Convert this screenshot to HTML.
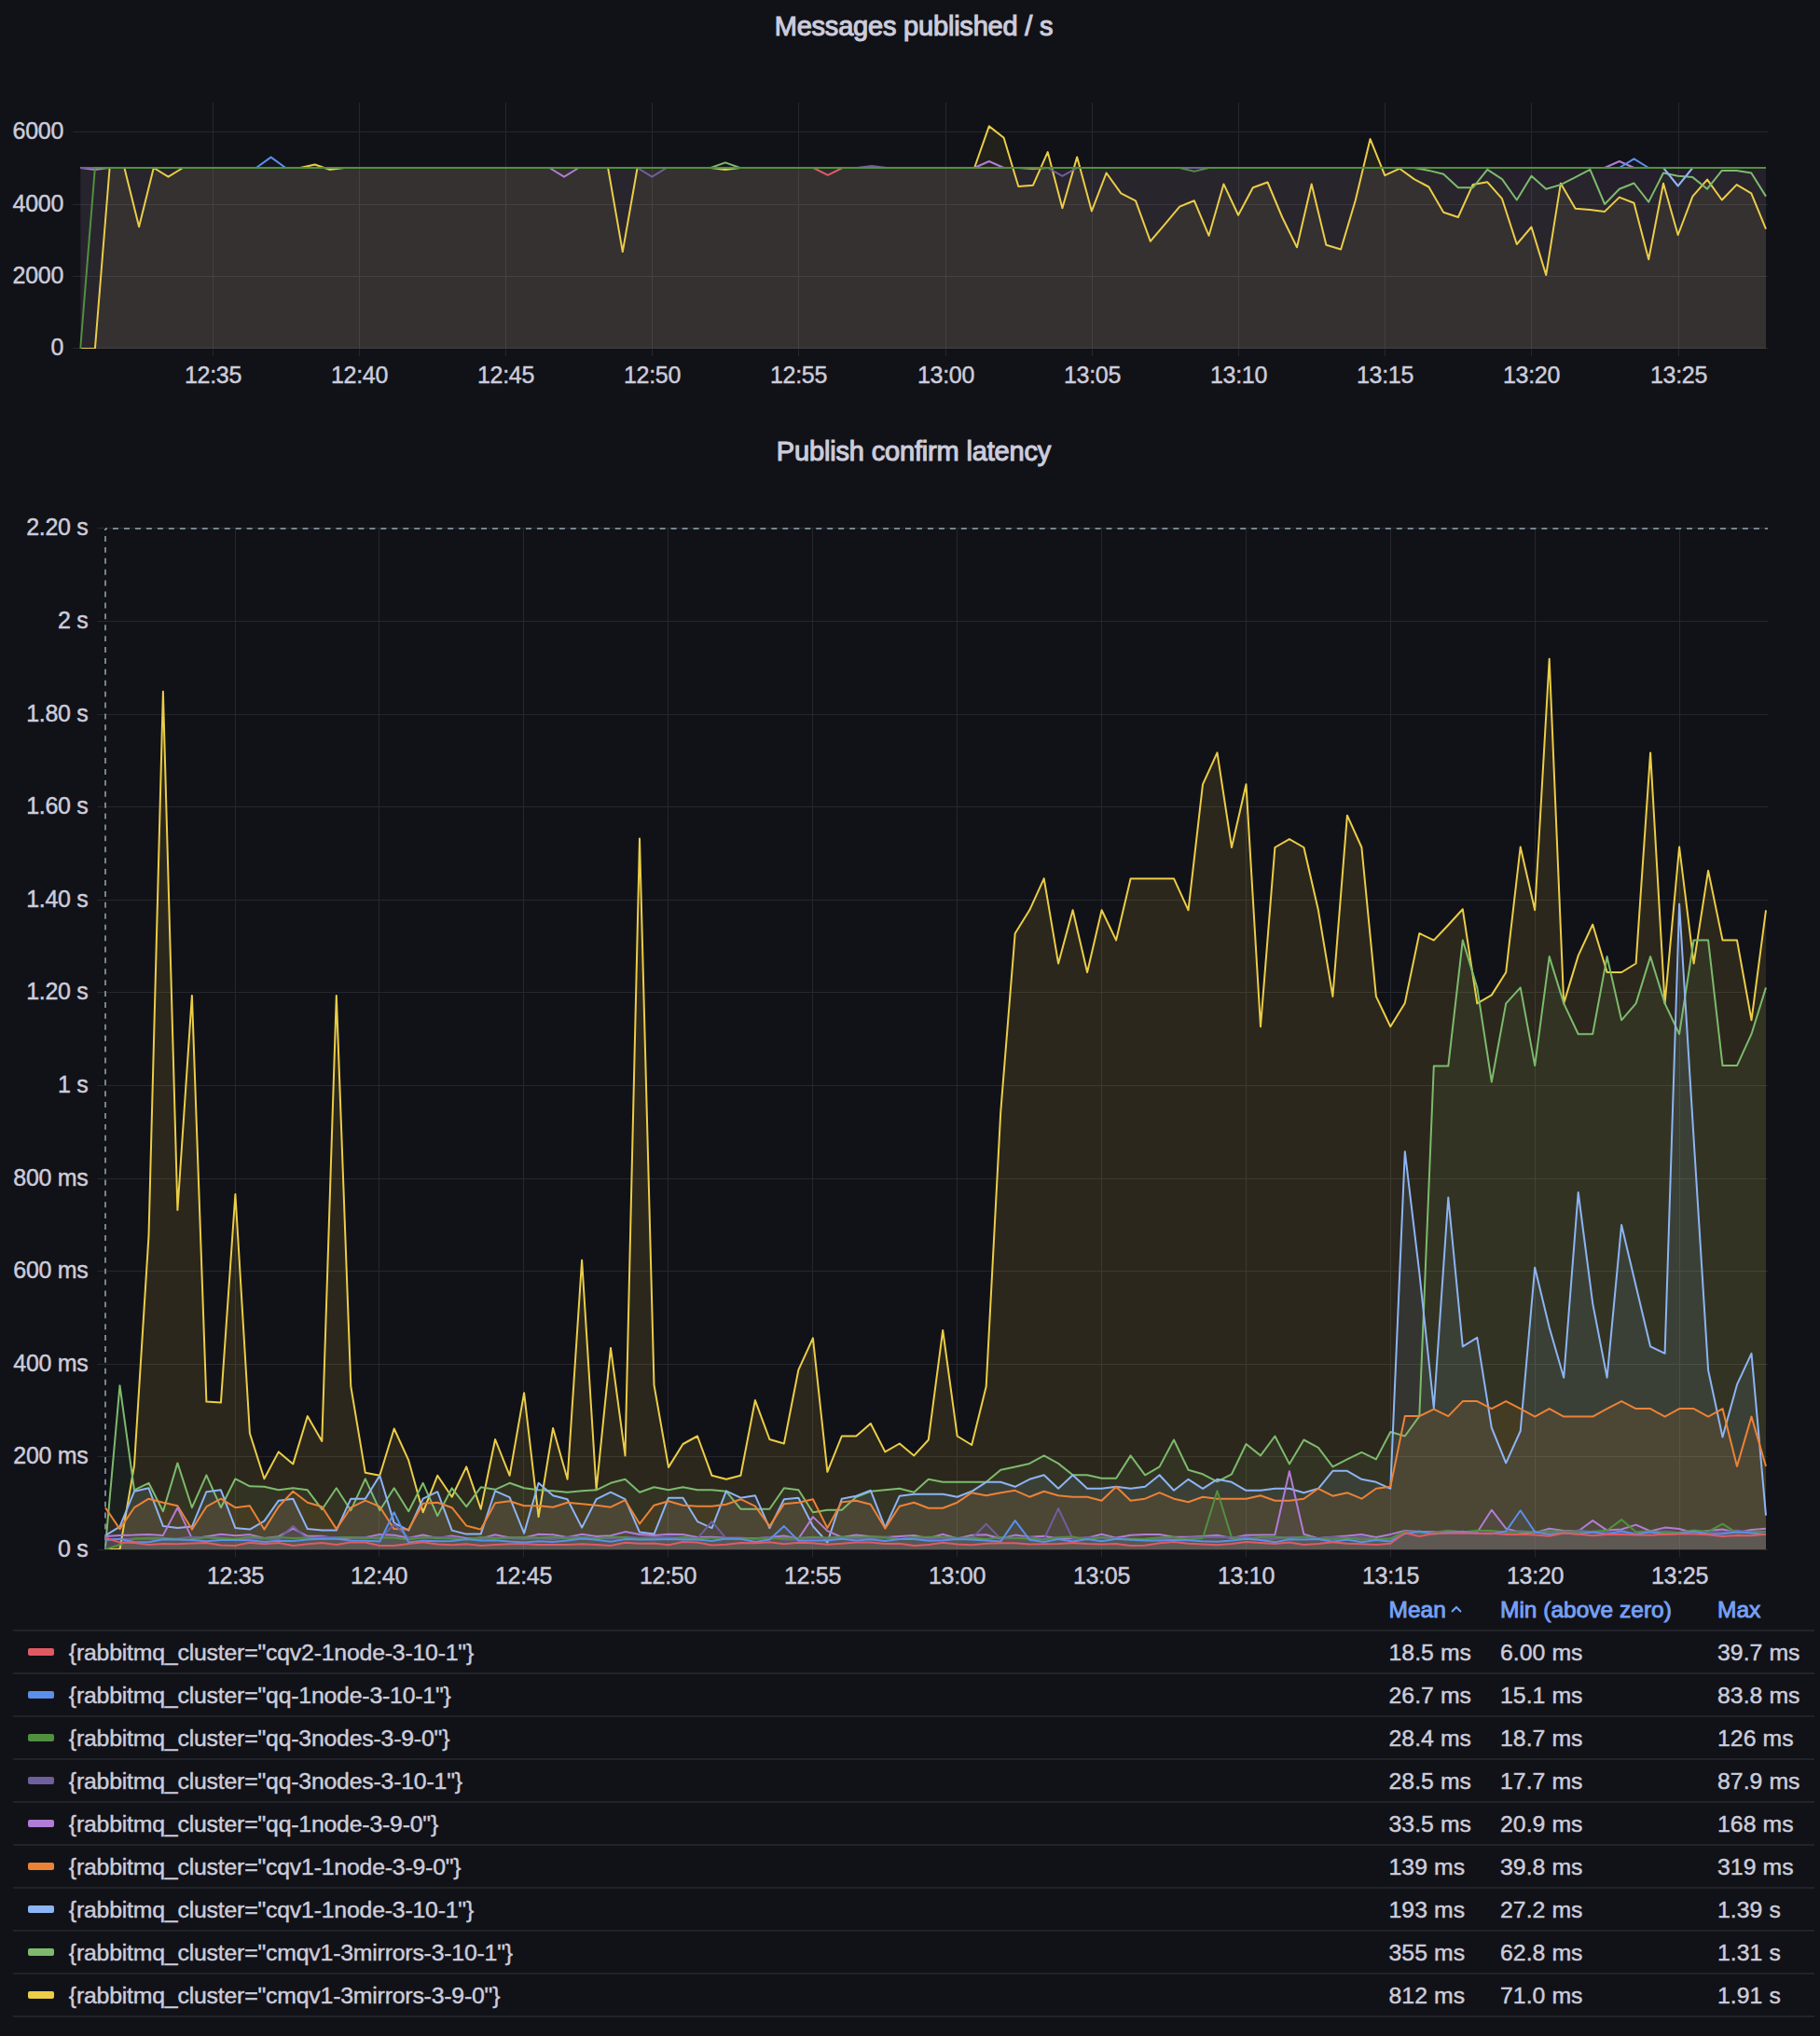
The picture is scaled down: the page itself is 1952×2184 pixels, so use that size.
<!DOCTYPE html>
<html><head><meta charset="utf-8"><title>Grafana</title>
<style>
html,body{margin:0;padding:0;background:#111217;width:1952px;height:2184px;overflow:hidden;position:relative}
svg text{font-family:"Liberation Sans",sans-serif;fill:#ccccdc}
.ax,.lg,.val{stroke:#ccccdc;stroke-width:0.45px}
.ttl{font-size:29px;font-weight:normal;stroke:#ccccdc;stroke-width:1.1px}
.ax{font-size:25px;letter-spacing:-0.3px}
.lg{font-size:24.8px;letter-spacing:-0.19px}
.val{font-size:24.8px;letter-spacing:0.05px}
.hd{font-size:24.5px;font-weight:normal;letter-spacing:0px;fill:#76a0f8 !important;stroke:#76a0f8;stroke-width:0.9px}
</style></head><body>
<svg width="1952" height="2184" viewBox="0 0 1952 2184" style="position:absolute;left:0;top:0">
<text x="980" y="38" text-anchor="middle" class="ttl" letter-spacing="-0.2">Messages published / s</text>
<text x="980" y="494" text-anchor="middle" class="ttl" letter-spacing="-0.17">Publish confirm latency</text>
<line x1="78" y1="373.5" x2="1896" y2="373.5" stroke="#26272c" stroke-width="1"/>
<text x="68" y="381.0" text-anchor="end" class="ax">0</text>
<line x1="78" y1="296.5" x2="1896" y2="296.5" stroke="#26272c" stroke-width="1"/>
<text x="68" y="304.0" text-anchor="end" class="ax">2000</text>
<line x1="78" y1="219.5" x2="1896" y2="219.5" stroke="#26272c" stroke-width="1"/>
<text x="68" y="227.0" text-anchor="end" class="ax">4000</text>
<line x1="78" y1="141.5" x2="1896" y2="141.5" stroke="#26272c" stroke-width="1"/>
<text x="68" y="149.0" text-anchor="end" class="ax">6000</text>
<line x1="228.5" y1="110" x2="228.5" y2="382" stroke="#26272c" stroke-width="1"/>
<text x="228.5" y="410.5" text-anchor="middle" class="ax">12:35</text>
<line x1="385.5" y1="110" x2="385.5" y2="382" stroke="#26272c" stroke-width="1"/>
<text x="385.5" y="410.5" text-anchor="middle" class="ax">12:40</text>
<line x1="542.5" y1="110" x2="542.5" y2="382" stroke="#26272c" stroke-width="1"/>
<text x="542.5" y="410.5" text-anchor="middle" class="ax">12:45</text>
<line x1="699.5" y1="110" x2="699.5" y2="382" stroke="#26272c" stroke-width="1"/>
<text x="699.5" y="410.5" text-anchor="middle" class="ax">12:50</text>
<line x1="856.5" y1="110" x2="856.5" y2="382" stroke="#26272c" stroke-width="1"/>
<text x="856.5" y="410.5" text-anchor="middle" class="ax">12:55</text>
<line x1="1014.5" y1="110" x2="1014.5" y2="382" stroke="#26272c" stroke-width="1"/>
<text x="1014.5" y="410.5" text-anchor="middle" class="ax">13:00</text>
<line x1="1171.5" y1="110" x2="1171.5" y2="382" stroke="#26272c" stroke-width="1"/>
<text x="1171.5" y="410.5" text-anchor="middle" class="ax">13:05</text>
<line x1="1328.5" y1="110" x2="1328.5" y2="382" stroke="#26272c" stroke-width="1"/>
<text x="1328.5" y="410.5" text-anchor="middle" class="ax">13:10</text>
<line x1="1485.5" y1="110" x2="1485.5" y2="382" stroke="#26272c" stroke-width="1"/>
<text x="1485.5" y="410.5" text-anchor="middle" class="ax">13:15</text>
<line x1="1642.5" y1="110" x2="1642.5" y2="382" stroke="#26272c" stroke-width="1"/>
<text x="1642.5" y="410.5" text-anchor="middle" class="ax">13:20</text>
<line x1="1800.5" y1="110" x2="1800.5" y2="382" stroke="#26272c" stroke-width="1"/>
<text x="1800.5" y="410.5" text-anchor="middle" class="ax">13:25</text>
<clipPath id="ct"><rect x="85.2" y="100" width="1809.8" height="274.0"/></clipPath>
<g clip-path="url(#ct)"><path d="M86.2,374.0 L86.2,374.0 L101.9,374.0 L117.6,180.0 L133.4,180.0 L149.1,243.2 L164.8,180.0 L180.5,189.7 L196.2,180.0 L212.0,180.0 L227.7,180.0 L243.4,180.0 L259.1,180.0 L274.8,180.0 L290.6,180.0 L306.3,180.0 L322.0,180.0 L337.7,176.5 L353.4,181.9 L369.2,180.0 L384.9,180.0 L400.6,180.0 L416.3,180.0 L432.0,180.0 L447.8,180.0 L463.5,180.0 L479.2,180.0 L494.9,180.0 L510.6,180.0 L526.4,180.0 L542.1,180.0 L557.8,180.0 L573.5,180.0 L589.2,180.0 L605.0,180.0 L620.7,180.0 L636.4,180.0 L652.1,180.0 L667.8,270.1 L683.6,180.0 L699.3,180.0 L715.0,180.0 L730.7,180.0 L746.4,180.0 L762.2,180.0 L777.9,181.9 L793.6,180.0 L809.3,180.0 L825.0,180.0 L840.8,180.0 L856.5,180.0 L872.2,180.0 L887.9,180.0 L903.6,180.0 L919.4,180.0 L935.1,180.0 L950.8,180.0 L966.5,180.0 L982.2,180.0 L998.0,180.0 L1013.7,180.0 L1029.4,180.0 L1045.1,180.0 L1060.8,135.4 L1076.6,147.8 L1092.3,200.0 L1108.0,198.7 L1123.7,163.1 L1139.4,223.2 L1155.2,168.4 L1170.9,226.4 L1186.6,185.5 L1202.3,207.4 L1218.0,215.3 L1233.8,258.8 L1249.5,240.4 L1265.2,221.6 L1280.9,215.3 L1296.6,252.8 L1312.4,197.4 L1328.1,230.8 L1343.8,201.3 L1359.5,195.5 L1375.2,233.0 L1391.0,265.2 L1406.7,197.4 L1422.4,262.8 L1438.1,267.5 L1453.8,214.8 L1469.6,149.1 L1485.3,188.2 L1501.0,180.8 L1516.7,192.1 L1532.4,200.5 L1548.2,227.7 L1563.9,233.0 L1579.6,198.1 L1595.3,195.3 L1611.0,213.2 L1626.8,262.0 L1642.5,243.5 L1658.2,295.0 L1673.9,196.7 L1689.6,223.8 L1705.4,225.1 L1721.1,226.9 L1736.8,211.6 L1752.5,217.7 L1768.2,278.3 L1784.0,196.7 L1799.7,252.0 L1815.4,210.6 L1831.1,192.6 L1846.8,214.5 L1862.6,198.1 L1878.3,207.4 L1894.0,245.6 L1894.0,374.0 Z" fill="#ebcd47" fill-opacity="0.0813" stroke="none"/>
<path d="M86.2,374.0 L86.2,180.0 L101.9,180.0 L117.6,180.0 L133.4,180.0 L149.1,180.0 L164.8,180.0 L180.5,180.0 L196.2,180.0 L212.0,180.0 L227.7,180.0 L243.4,180.0 L259.1,180.0 L274.8,180.0 L290.6,180.0 L306.3,180.0 L322.0,180.0 L337.7,180.0 L353.4,180.0 L369.2,180.0 L384.9,180.0 L400.6,180.0 L416.3,180.0 L432.0,180.0 L447.8,180.0 L463.5,180.0 L479.2,180.0 L494.9,180.0 L510.6,180.0 L526.4,180.0 L542.1,180.0 L557.8,180.0 L573.5,180.0 L589.2,180.0 L605.0,180.0 L620.7,180.0 L636.4,180.0 L652.1,180.0 L667.8,180.0 L683.6,180.0 L699.3,180.0 L715.0,180.0 L730.7,180.0 L746.4,180.0 L762.2,180.0 L777.9,174.4 L793.6,180.0 L809.3,180.0 L825.0,180.0 L840.8,180.0 L856.5,180.0 L872.2,180.0 L887.9,180.0 L903.6,180.0 L919.4,180.0 L935.1,180.0 L950.8,180.0 L966.5,180.0 L982.2,180.0 L998.0,180.0 L1013.7,180.0 L1029.4,180.0 L1045.1,180.0 L1060.8,180.0 L1076.6,180.0 L1092.3,180.0 L1108.0,180.0 L1123.7,180.0 L1139.4,180.0 L1155.2,180.0 L1170.9,180.0 L1186.6,180.0 L1202.3,180.0 L1218.0,180.0 L1233.8,180.0 L1249.5,180.0 L1265.2,180.0 L1280.9,180.0 L1296.6,180.0 L1312.4,180.0 L1328.1,180.0 L1343.8,180.0 L1359.5,180.0 L1375.2,180.0 L1391.0,180.0 L1406.7,180.0 L1422.4,180.0 L1438.1,180.0 L1453.8,180.0 L1469.6,180.0 L1485.3,180.0 L1501.0,180.0 L1516.7,180.0 L1532.4,182.9 L1548.2,186.8 L1563.9,201.3 L1579.6,201.3 L1595.3,181.9 L1611.0,192.1 L1626.8,214.5 L1642.5,188.7 L1658.2,202.7 L1673.9,198.1 L1689.6,190.1 L1705.4,181.9 L1721.1,219.0 L1736.8,202.7 L1752.5,196.5 L1768.2,216.6 L1784.0,185.5 L1799.7,188.7 L1815.4,190.1 L1831.1,202.7 L1846.8,182.9 L1862.6,182.9 L1878.3,185.5 L1894.0,210.6 L1894.0,374.0 Z" fill="#7dba6d" fill-opacity="0.0296" stroke="none"/>
<path d="M86.2,374.0 L86.2,180.0 L101.9,180.0 L117.6,180.0 L133.4,180.0 L149.1,180.0 L164.8,180.0 L180.5,180.0 L196.2,180.0 L212.0,180.0 L227.7,180.0 L243.4,180.0 L259.1,180.0 L274.8,180.0 L290.6,180.0 L306.3,180.0 L322.0,180.0 L337.7,180.0 L353.4,180.0 L369.2,180.0 L384.9,180.0 L400.6,180.0 L416.3,180.0 L432.0,180.0 L447.8,180.0 L463.5,180.0 L479.2,180.0 L494.9,180.0 L510.6,180.0 L526.4,180.0 L542.1,180.0 L557.8,180.0 L573.5,180.0 L589.2,180.0 L605.0,180.0 L620.7,180.0 L636.4,180.0 L652.1,180.0 L667.8,180.0 L683.6,180.0 L699.3,180.0 L715.0,180.0 L730.7,180.0 L746.4,180.0 L762.2,180.0 L777.9,180.0 L793.6,180.0 L809.3,180.0 L825.0,180.0 L840.8,180.0 L856.5,180.0 L872.2,180.0 L887.9,180.0 L903.6,180.0 L919.4,180.0 L935.1,180.0 L950.8,180.0 L966.5,180.0 L982.2,180.0 L998.0,180.0 L1013.7,180.0 L1029.4,180.0 L1045.1,180.0 L1060.8,180.0 L1076.6,180.0 L1092.3,180.0 L1108.0,180.0 L1123.7,180.0 L1139.4,180.0 L1155.2,180.0 L1170.9,180.0 L1186.6,180.0 L1202.3,180.0 L1218.0,180.0 L1233.8,180.0 L1249.5,180.0 L1265.2,180.0 L1280.9,180.0 L1296.6,180.0 L1312.4,180.0 L1328.1,180.0 L1343.8,180.0 L1359.5,180.0 L1375.2,180.0 L1391.0,180.0 L1406.7,180.0 L1422.4,180.0 L1438.1,180.0 L1453.8,180.0 L1469.6,180.0 L1485.3,180.0 L1501.0,180.0 L1516.7,180.0 L1532.4,180.0 L1548.2,180.0 L1563.9,180.0 L1579.6,180.0 L1595.3,180.0 L1611.0,180.0 L1626.8,180.0 L1642.5,180.0 L1658.2,180.0 L1673.9,180.0 L1689.6,180.0 L1705.4,180.0 L1721.1,180.0 L1736.8,180.0 L1752.5,180.0 L1768.2,180.0 L1784.0,180.0 L1799.7,199.5 L1815.4,180.0 L1831.1,180.0 L1846.8,180.0 L1862.6,180.0 L1878.3,180.0 L1894.0,180.0 L1894.0,374.0 Z" fill="#8db4f5" fill-opacity="0.0203" stroke="none"/>
<path d="M86.2,374.0 L86.2,180.0 L101.9,180.0 L117.6,180.0 L133.4,180.0 L149.1,180.0 L164.8,180.0 L180.5,180.0 L196.2,180.0 L212.0,180.0 L227.7,180.0 L243.4,180.0 L259.1,180.0 L274.8,180.0 L290.6,180.0 L306.3,180.0 L322.0,180.0 L337.7,180.0 L353.4,180.0 L369.2,180.0 L384.9,180.0 L400.6,180.0 L416.3,180.0 L432.0,180.0 L447.8,180.0 L463.5,180.0 L479.2,180.0 L494.9,180.0 L510.6,180.0 L526.4,180.0 L542.1,180.0 L557.8,180.0 L573.5,180.0 L589.2,180.0 L605.0,180.0 L620.7,180.0 L636.4,180.0 L652.1,180.0 L667.8,180.0 L683.6,180.0 L699.3,180.0 L715.0,180.0 L730.7,180.0 L746.4,180.0 L762.2,180.0 L777.9,180.0 L793.6,180.0 L809.3,180.0 L825.0,180.0 L840.8,180.0 L856.5,180.0 L872.2,180.0 L887.9,180.0 L903.6,180.0 L919.4,180.0 L935.1,180.0 L950.8,180.0 L966.5,180.0 L982.2,180.0 L998.0,180.0 L1013.7,180.0 L1029.4,180.0 L1045.1,180.0 L1060.8,180.0 L1076.6,180.0 L1092.3,180.0 L1108.0,181.2 L1123.7,180.0 L1139.4,180.0 L1155.2,180.0 L1170.9,180.0 L1186.6,180.0 L1202.3,180.0 L1218.0,180.0 L1233.8,180.0 L1249.5,180.0 L1265.2,180.0 L1280.9,180.0 L1296.6,180.0 L1312.4,180.0 L1328.1,180.0 L1343.8,180.0 L1359.5,180.0 L1375.2,180.0 L1391.0,180.0 L1406.7,180.0 L1422.4,180.0 L1438.1,180.0 L1453.8,180.0 L1469.6,180.0 L1485.3,180.0 L1501.0,180.0 L1516.7,180.0 L1532.4,180.0 L1548.2,180.0 L1563.9,180.0 L1579.6,180.0 L1595.3,180.0 L1611.0,180.0 L1626.8,180.0 L1642.5,180.0 L1658.2,180.0 L1673.9,180.0 L1689.6,180.0 L1705.4,180.0 L1721.1,180.0 L1736.8,180.0 L1752.5,180.0 L1768.2,180.0 L1784.0,180.0 L1799.7,180.0 L1815.4,180.0 L1831.1,180.0 L1846.8,180.0 L1862.6,180.0 L1878.3,180.0 L1894.0,180.0 L1894.0,374.0 Z" fill="#ec8236" fill-opacity="0.0" stroke="none"/>
<path d="M86.2,374.0 L86.2,180.0 L101.9,181.9 L117.6,180.0 L133.4,180.0 L149.1,180.0 L164.8,180.0 L180.5,180.0 L196.2,180.0 L212.0,180.0 L227.7,180.0 L243.4,180.0 L259.1,180.0 L274.8,180.0 L290.6,180.0 L306.3,180.0 L322.0,180.0 L337.7,180.0 L353.4,180.0 L369.2,180.0 L384.9,180.0 L400.6,180.0 L416.3,180.0 L432.0,180.0 L447.8,180.0 L463.5,180.0 L479.2,180.0 L494.9,180.0 L510.6,180.0 L526.4,180.0 L542.1,180.0 L557.8,180.0 L573.5,180.0 L589.2,180.0 L605.0,189.7 L620.7,180.0 L636.4,180.0 L652.1,180.0 L667.8,180.0 L683.6,180.0 L699.3,180.0 L715.0,180.0 L730.7,180.0 L746.4,180.0 L762.2,180.0 L777.9,180.0 L793.6,180.0 L809.3,180.0 L825.0,180.0 L840.8,180.0 L856.5,180.0 L872.2,180.0 L887.9,180.0 L903.6,180.0 L919.4,180.0 L935.1,180.0 L950.8,180.0 L966.5,180.0 L982.2,180.0 L998.0,180.0 L1013.7,180.0 L1029.4,180.0 L1045.1,180.0 L1060.8,173.0 L1076.6,180.0 L1092.3,180.0 L1108.0,180.0 L1123.7,180.0 L1139.4,180.0 L1155.2,180.0 L1170.9,180.0 L1186.6,180.0 L1202.3,180.0 L1218.0,180.0 L1233.8,180.0 L1249.5,180.0 L1265.2,180.0 L1280.9,180.0 L1296.6,180.0 L1312.4,180.0 L1328.1,180.0 L1343.8,180.0 L1359.5,180.0 L1375.2,180.0 L1391.0,180.0 L1406.7,180.0 L1422.4,180.0 L1438.1,180.0 L1453.8,180.0 L1469.6,180.0 L1485.3,180.0 L1501.0,180.0 L1516.7,180.0 L1532.4,180.0 L1548.2,180.0 L1563.9,180.0 L1579.6,180.0 L1595.3,180.0 L1611.0,180.0 L1626.8,180.0 L1642.5,180.0 L1658.2,180.0 L1673.9,180.0 L1689.6,180.0 L1705.4,180.0 L1721.1,180.0 L1736.8,173.0 L1752.5,180.0 L1768.2,180.0 L1784.0,180.0 L1799.7,180.0 L1815.4,180.0 L1831.1,180.0 L1846.8,180.0 L1862.6,180.0 L1878.3,180.0 L1894.0,180.0 L1894.0,374.0 Z" fill="#b07dd5" fill-opacity="0.0135" stroke="none"/>
<path d="M86.2,374.0 L86.2,180.0 L101.9,180.0 L117.6,180.0 L133.4,180.0 L149.1,180.0 L164.8,180.0 L180.5,180.0 L196.2,180.0 L212.0,180.0 L227.7,180.0 L243.4,180.0 L259.1,180.0 L274.8,180.0 L290.6,168.6 L306.3,180.0 L322.0,180.0 L337.7,180.0 L353.4,180.0 L369.2,180.0 L384.9,180.0 L400.6,180.0 L416.3,180.0 L432.0,180.0 L447.8,180.0 L463.5,180.0 L479.2,180.0 L494.9,180.0 L510.6,180.0 L526.4,180.0 L542.1,180.0 L557.8,180.0 L573.5,180.0 L589.2,180.0 L605.0,180.0 L620.7,180.0 L636.4,180.0 L652.1,180.0 L667.8,180.0 L683.6,180.0 L699.3,180.0 L715.0,180.0 L730.7,180.0 L746.4,180.0 L762.2,180.0 L777.9,180.0 L793.6,180.0 L809.3,180.0 L825.0,180.0 L840.8,180.0 L856.5,180.0 L872.2,180.0 L887.9,180.0 L903.6,180.0 L919.4,180.0 L935.1,180.0 L950.8,180.0 L966.5,180.0 L982.2,180.0 L998.0,180.0 L1013.7,180.0 L1029.4,180.0 L1045.1,180.0 L1060.8,180.0 L1076.6,180.0 L1092.3,180.0 L1108.0,180.0 L1123.7,180.0 L1139.4,180.0 L1155.2,180.0 L1170.9,180.0 L1186.6,180.0 L1202.3,180.0 L1218.0,180.0 L1233.8,180.0 L1249.5,180.0 L1265.2,180.0 L1280.9,180.0 L1296.6,180.0 L1312.4,180.0 L1328.1,180.0 L1343.8,180.0 L1359.5,180.0 L1375.2,180.0 L1391.0,180.0 L1406.7,180.0 L1422.4,180.0 L1438.1,180.0 L1453.8,180.0 L1469.6,180.0 L1485.3,180.0 L1501.0,180.0 L1516.7,180.0 L1532.4,180.0 L1548.2,180.0 L1563.9,180.0 L1579.6,180.0 L1595.3,180.0 L1611.0,180.0 L1626.8,180.0 L1642.5,180.0 L1658.2,180.0 L1673.9,180.0 L1689.6,180.0 L1705.4,180.0 L1721.1,180.0 L1736.8,180.0 L1752.5,170.3 L1768.2,180.0 L1784.0,180.0 L1799.7,180.0 L1815.4,180.0 L1831.1,180.0 L1846.8,180.0 L1862.6,180.0 L1878.3,180.0 L1894.0,180.0 L1894.0,374.0 Z" fill="#5b8fea" fill-opacity="0.0368" stroke="none"/>
<path d="M86.2,374.0 L86.2,180.0 L101.9,180.0 L117.6,180.0 L133.4,180.0 L149.1,180.0 L164.8,180.0 L180.5,180.0 L196.2,180.0 L212.0,180.0 L227.7,180.0 L243.4,180.0 L259.1,180.0 L274.8,180.0 L290.6,180.0 L306.3,180.0 L322.0,180.0 L337.7,180.0 L353.4,180.0 L369.2,180.0 L384.9,180.0 L400.6,180.0 L416.3,180.0 L432.0,180.0 L447.8,180.0 L463.5,180.0 L479.2,180.0 L494.9,180.0 L510.6,180.0 L526.4,180.0 L542.1,180.0 L557.8,180.0 L573.5,180.0 L589.2,180.0 L605.0,180.0 L620.7,180.0 L636.4,180.0 L652.1,180.0 L667.8,180.0 L683.6,180.0 L699.3,180.0 L715.0,180.0 L730.7,180.0 L746.4,180.0 L762.2,180.0 L777.9,180.0 L793.6,180.0 L809.3,180.0 L825.0,180.0 L840.8,180.0 L856.5,180.0 L872.2,180.0 L887.9,187.8 L903.6,180.0 L919.4,180.0 L935.1,180.0 L950.8,180.0 L966.5,180.0 L982.2,180.0 L998.0,180.0 L1013.7,180.0 L1029.4,180.0 L1045.1,180.0 L1060.8,180.0 L1076.6,180.0 L1092.3,180.0 L1108.0,180.0 L1123.7,180.0 L1139.4,180.0 L1155.2,180.0 L1170.9,180.0 L1186.6,180.0 L1202.3,180.0 L1218.0,180.0 L1233.8,180.0 L1249.5,180.0 L1265.2,180.0 L1280.9,180.0 L1296.6,180.0 L1312.4,180.0 L1328.1,180.0 L1343.8,180.0 L1359.5,180.0 L1375.2,180.0 L1391.0,180.0 L1406.7,180.0 L1422.4,180.0 L1438.1,180.0 L1453.8,180.0 L1469.6,180.0 L1485.3,180.0 L1501.0,180.0 L1516.7,180.0 L1532.4,180.0 L1548.2,180.0 L1563.9,180.0 L1579.6,180.0 L1595.3,180.0 L1611.0,180.0 L1626.8,180.0 L1642.5,180.0 L1658.2,180.0 L1673.9,180.0 L1689.6,180.0 L1705.4,180.0 L1721.1,180.0 L1736.8,180.0 L1752.5,180.0 L1768.2,180.0 L1784.0,180.0 L1799.7,180.0 L1815.4,180.0 L1831.1,180.0 L1846.8,180.0 L1862.6,180.0 L1878.3,180.0 L1894.0,180.0 L1894.0,374.0 Z" fill="#e05a64" fill-opacity="0.0658" stroke="none"/>
<path d="M86.2,374.0 L86.2,180.0 L101.9,180.0 L117.6,180.0 L133.4,180.0 L149.1,180.0 L164.8,180.0 L180.5,180.0 L196.2,180.0 L212.0,180.0 L227.7,180.0 L243.4,180.0 L259.1,180.0 L274.8,180.0 L290.6,180.0 L306.3,180.0 L322.0,180.0 L337.7,180.0 L353.4,180.0 L369.2,180.0 L384.9,180.0 L400.6,180.0 L416.3,180.0 L432.0,180.0 L447.8,180.0 L463.5,180.0 L479.2,180.0 L494.9,180.0 L510.6,180.0 L526.4,180.0 L542.1,180.0 L557.8,180.0 L573.5,180.0 L589.2,180.0 L605.0,180.0 L620.7,180.0 L636.4,180.0 L652.1,180.0 L667.8,180.0 L683.6,180.0 L699.3,189.7 L715.0,180.0 L730.7,180.0 L746.4,180.0 L762.2,180.0 L777.9,180.0 L793.6,180.0 L809.3,180.0 L825.0,180.0 L840.8,180.0 L856.5,180.0 L872.2,180.0 L887.9,180.0 L903.6,180.0 L919.4,180.0 L935.1,178.1 L950.8,180.0 L966.5,180.0 L982.2,180.0 L998.0,180.0 L1013.7,180.0 L1029.4,180.0 L1045.1,180.0 L1060.8,180.0 L1076.6,180.0 L1092.3,180.0 L1108.0,180.0 L1123.7,180.0 L1139.4,188.8 L1155.2,180.0 L1170.9,180.0 L1186.6,180.0 L1202.3,180.0 L1218.0,180.0 L1233.8,180.0 L1249.5,180.0 L1265.2,180.0 L1280.9,180.0 L1296.6,180.0 L1312.4,180.0 L1328.1,180.0 L1343.8,180.0 L1359.5,180.0 L1375.2,180.0 L1391.0,180.0 L1406.7,180.0 L1422.4,180.0 L1438.1,180.0 L1453.8,180.0 L1469.6,180.0 L1485.3,180.0 L1501.0,180.0 L1516.7,180.0 L1532.4,180.0 L1548.2,180.0 L1563.9,180.0 L1579.6,180.0 L1595.3,180.0 L1611.0,180.0 L1626.8,180.0 L1642.5,180.0 L1658.2,180.0 L1673.9,180.0 L1689.6,180.0 L1705.4,180.0 L1721.1,180.0 L1736.8,180.0 L1752.5,180.0 L1768.2,180.0 L1784.0,180.0 L1799.7,180.0 L1815.4,180.0 L1831.1,180.0 L1846.8,180.0 L1862.6,180.0 L1878.3,180.0 L1894.0,180.0 L1894.0,374.0 Z" fill="#6f5f9e" fill-opacity="0.0404" stroke="none"/>
<path d="M86.2,374.0 L86.2,374.0 L101.9,180.0 L117.6,180.0 L133.4,180.0 L149.1,180.0 L164.8,180.0 L180.5,180.0 L196.2,180.0 L212.0,180.0 L227.7,180.0 L243.4,180.0 L259.1,180.0 L274.8,180.0 L290.6,180.0 L306.3,180.0 L322.0,180.0 L337.7,180.0 L353.4,180.0 L369.2,180.0 L384.9,180.0 L400.6,180.0 L416.3,180.0 L432.0,180.0 L447.8,180.0 L463.5,180.0 L479.2,180.0 L494.9,180.0 L510.6,180.0 L526.4,180.0 L542.1,180.0 L557.8,180.0 L573.5,180.0 L589.2,180.0 L605.0,180.0 L620.7,180.0 L636.4,180.0 L652.1,180.0 L667.8,180.0 L683.6,180.0 L699.3,180.0 L715.0,180.0 L730.7,180.0 L746.4,180.0 L762.2,180.0 L777.9,180.0 L793.6,180.0 L809.3,180.0 L825.0,180.0 L840.8,180.0 L856.5,180.0 L872.2,180.0 L887.9,180.0 L903.6,180.0 L919.4,180.0 L935.1,180.0 L950.8,180.0 L966.5,180.0 L982.2,180.0 L998.0,180.0 L1013.7,180.0 L1029.4,180.0 L1045.1,180.0 L1060.8,180.0 L1076.6,180.0 L1092.3,180.0 L1108.0,180.0 L1123.7,180.0 L1139.4,180.0 L1155.2,180.0 L1170.9,180.0 L1186.6,180.0 L1202.3,180.0 L1218.0,180.0 L1233.8,180.0 L1249.5,180.0 L1265.2,180.0 L1280.9,183.9 L1296.6,180.0 L1312.4,180.0 L1328.1,180.0 L1343.8,180.0 L1359.5,180.0 L1375.2,180.0 L1391.0,180.0 L1406.7,180.0 L1422.4,180.0 L1438.1,180.0 L1453.8,180.0 L1469.6,180.0 L1485.3,180.0 L1501.0,180.0 L1516.7,180.0 L1532.4,180.0 L1548.2,180.0 L1563.9,180.0 L1579.6,180.0 L1595.3,180.0 L1611.0,180.0 L1626.8,180.0 L1642.5,180.0 L1658.2,180.0 L1673.9,180.0 L1689.6,180.0 L1705.4,180.0 L1721.1,180.0 L1736.8,180.0 L1752.5,180.0 L1768.2,180.0 L1784.0,180.0 L1799.7,180.0 L1815.4,180.0 L1831.1,180.0 L1846.8,180.0 L1862.6,180.0 L1878.3,180.0 L1894.0,180.0 L1894.0,374.0 Z" fill="#52903f" fill-opacity="0.0136" stroke="none"/>
<polyline points="86.2,374.0 101.9,374.0 117.6,180.0 133.4,180.0 149.1,243.2 164.8,180.0 180.5,189.7 196.2,180.0 212.0,180.0 227.7,180.0 243.4,180.0 259.1,180.0 274.8,180.0 290.6,180.0 306.3,180.0 322.0,180.0 337.7,176.5 353.4,181.9 369.2,180.0 384.9,180.0 400.6,180.0 416.3,180.0 432.0,180.0 447.8,180.0 463.5,180.0 479.2,180.0 494.9,180.0 510.6,180.0 526.4,180.0 542.1,180.0 557.8,180.0 573.5,180.0 589.2,180.0 605.0,180.0 620.7,180.0 636.4,180.0 652.1,180.0 667.8,270.1 683.6,180.0 699.3,180.0 715.0,180.0 730.7,180.0 746.4,180.0 762.2,180.0 777.9,181.9 793.6,180.0 809.3,180.0 825.0,180.0 840.8,180.0 856.5,180.0 872.2,180.0 887.9,180.0 903.6,180.0 919.4,180.0 935.1,180.0 950.8,180.0 966.5,180.0 982.2,180.0 998.0,180.0 1013.7,180.0 1029.4,180.0 1045.1,180.0 1060.8,135.4 1076.6,147.8 1092.3,200.0 1108.0,198.7 1123.7,163.1 1139.4,223.2 1155.2,168.4 1170.9,226.4 1186.6,185.5 1202.3,207.4 1218.0,215.3 1233.8,258.8 1249.5,240.4 1265.2,221.6 1280.9,215.3 1296.6,252.8 1312.4,197.4 1328.1,230.8 1343.8,201.3 1359.5,195.5 1375.2,233.0 1391.0,265.2 1406.7,197.4 1422.4,262.8 1438.1,267.5 1453.8,214.8 1469.6,149.1 1485.3,188.2 1501.0,180.8 1516.7,192.1 1532.4,200.5 1548.2,227.7 1563.9,233.0 1579.6,198.1 1595.3,195.3 1611.0,213.2 1626.8,262.0 1642.5,243.5 1658.2,295.0 1673.9,196.7 1689.6,223.8 1705.4,225.1 1721.1,226.9 1736.8,211.6 1752.5,217.7 1768.2,278.3 1784.0,196.7 1799.7,252.0 1815.4,210.6 1831.1,192.6 1846.8,214.5 1862.6,198.1 1878.3,207.4 1894.0,245.6" fill="none" stroke="#ebcd47" stroke-width="2" stroke-linejoin="round"/>
<polyline points="86.2,180.0 101.9,180.0 117.6,180.0 133.4,180.0 149.1,180.0 164.8,180.0 180.5,180.0 196.2,180.0 212.0,180.0 227.7,180.0 243.4,180.0 259.1,180.0 274.8,180.0 290.6,180.0 306.3,180.0 322.0,180.0 337.7,180.0 353.4,180.0 369.2,180.0 384.9,180.0 400.6,180.0 416.3,180.0 432.0,180.0 447.8,180.0 463.5,180.0 479.2,180.0 494.9,180.0 510.6,180.0 526.4,180.0 542.1,180.0 557.8,180.0 573.5,180.0 589.2,180.0 605.0,180.0 620.7,180.0 636.4,180.0 652.1,180.0 667.8,180.0 683.6,180.0 699.3,180.0 715.0,180.0 730.7,180.0 746.4,180.0 762.2,180.0 777.9,174.4 793.6,180.0 809.3,180.0 825.0,180.0 840.8,180.0 856.5,180.0 872.2,180.0 887.9,180.0 903.6,180.0 919.4,180.0 935.1,180.0 950.8,180.0 966.5,180.0 982.2,180.0 998.0,180.0 1013.7,180.0 1029.4,180.0 1045.1,180.0 1060.8,180.0 1076.6,180.0 1092.3,180.0 1108.0,180.0 1123.7,180.0 1139.4,180.0 1155.2,180.0 1170.9,180.0 1186.6,180.0 1202.3,180.0 1218.0,180.0 1233.8,180.0 1249.5,180.0 1265.2,180.0 1280.9,180.0 1296.6,180.0 1312.4,180.0 1328.1,180.0 1343.8,180.0 1359.5,180.0 1375.2,180.0 1391.0,180.0 1406.7,180.0 1422.4,180.0 1438.1,180.0 1453.8,180.0 1469.6,180.0 1485.3,180.0 1501.0,180.0 1516.7,180.0 1532.4,182.9 1548.2,186.8 1563.9,201.3 1579.6,201.3 1595.3,181.9 1611.0,192.1 1626.8,214.5 1642.5,188.7 1658.2,202.7 1673.9,198.1 1689.6,190.1 1705.4,181.9 1721.1,219.0 1736.8,202.7 1752.5,196.5 1768.2,216.6 1784.0,185.5 1799.7,188.7 1815.4,190.1 1831.1,202.7 1846.8,182.9 1862.6,182.9 1878.3,185.5 1894.0,210.6" fill="none" stroke="#7dba6d" stroke-width="2" stroke-linejoin="round"/>
<polyline points="86.2,180.0 101.9,180.0 117.6,180.0 133.4,180.0 149.1,180.0 164.8,180.0 180.5,180.0 196.2,180.0 212.0,180.0 227.7,180.0 243.4,180.0 259.1,180.0 274.8,180.0 290.6,180.0 306.3,180.0 322.0,180.0 337.7,180.0 353.4,180.0 369.2,180.0 384.9,180.0 400.6,180.0 416.3,180.0 432.0,180.0 447.8,180.0 463.5,180.0 479.2,180.0 494.9,180.0 510.6,180.0 526.4,180.0 542.1,180.0 557.8,180.0 573.5,180.0 589.2,180.0 605.0,180.0 620.7,180.0 636.4,180.0 652.1,180.0 667.8,180.0 683.6,180.0 699.3,180.0 715.0,180.0 730.7,180.0 746.4,180.0 762.2,180.0 777.9,180.0 793.6,180.0 809.3,180.0 825.0,180.0 840.8,180.0 856.5,180.0 872.2,180.0 887.9,180.0 903.6,180.0 919.4,180.0 935.1,180.0 950.8,180.0 966.5,180.0 982.2,180.0 998.0,180.0 1013.7,180.0 1029.4,180.0 1045.1,180.0 1060.8,180.0 1076.6,180.0 1092.3,180.0 1108.0,180.0 1123.7,180.0 1139.4,180.0 1155.2,180.0 1170.9,180.0 1186.6,180.0 1202.3,180.0 1218.0,180.0 1233.8,180.0 1249.5,180.0 1265.2,180.0 1280.9,180.0 1296.6,180.0 1312.4,180.0 1328.1,180.0 1343.8,180.0 1359.5,180.0 1375.2,180.0 1391.0,180.0 1406.7,180.0 1422.4,180.0 1438.1,180.0 1453.8,180.0 1469.6,180.0 1485.3,180.0 1501.0,180.0 1516.7,180.0 1532.4,180.0 1548.2,180.0 1563.9,180.0 1579.6,180.0 1595.3,180.0 1611.0,180.0 1626.8,180.0 1642.5,180.0 1658.2,180.0 1673.9,180.0 1689.6,180.0 1705.4,180.0 1721.1,180.0 1736.8,180.0 1752.5,180.0 1768.2,180.0 1784.0,180.0 1799.7,199.5 1815.4,180.0 1831.1,180.0 1846.8,180.0 1862.6,180.0 1878.3,180.0 1894.0,180.0" fill="none" stroke="#8db4f5" stroke-width="2" stroke-linejoin="round"/>
<polyline points="86.2,180.0 101.9,180.0 117.6,180.0 133.4,180.0 149.1,180.0 164.8,180.0 180.5,180.0 196.2,180.0 212.0,180.0 227.7,180.0 243.4,180.0 259.1,180.0 274.8,180.0 290.6,180.0 306.3,180.0 322.0,180.0 337.7,180.0 353.4,180.0 369.2,180.0 384.9,180.0 400.6,180.0 416.3,180.0 432.0,180.0 447.8,180.0 463.5,180.0 479.2,180.0 494.9,180.0 510.6,180.0 526.4,180.0 542.1,180.0 557.8,180.0 573.5,180.0 589.2,180.0 605.0,180.0 620.7,180.0 636.4,180.0 652.1,180.0 667.8,180.0 683.6,180.0 699.3,180.0 715.0,180.0 730.7,180.0 746.4,180.0 762.2,180.0 777.9,180.0 793.6,180.0 809.3,180.0 825.0,180.0 840.8,180.0 856.5,180.0 872.2,180.0 887.9,180.0 903.6,180.0 919.4,180.0 935.1,180.0 950.8,180.0 966.5,180.0 982.2,180.0 998.0,180.0 1013.7,180.0 1029.4,180.0 1045.1,180.0 1060.8,180.0 1076.6,180.0 1092.3,180.0 1108.0,181.2 1123.7,180.0 1139.4,180.0 1155.2,180.0 1170.9,180.0 1186.6,180.0 1202.3,180.0 1218.0,180.0 1233.8,180.0 1249.5,180.0 1265.2,180.0 1280.9,180.0 1296.6,180.0 1312.4,180.0 1328.1,180.0 1343.8,180.0 1359.5,180.0 1375.2,180.0 1391.0,180.0 1406.7,180.0 1422.4,180.0 1438.1,180.0 1453.8,180.0 1469.6,180.0 1485.3,180.0 1501.0,180.0 1516.7,180.0 1532.4,180.0 1548.2,180.0 1563.9,180.0 1579.6,180.0 1595.3,180.0 1611.0,180.0 1626.8,180.0 1642.5,180.0 1658.2,180.0 1673.9,180.0 1689.6,180.0 1705.4,180.0 1721.1,180.0 1736.8,180.0 1752.5,180.0 1768.2,180.0 1784.0,180.0 1799.7,180.0 1815.4,180.0 1831.1,180.0 1846.8,180.0 1862.6,180.0 1878.3,180.0 1894.0,180.0" fill="none" stroke="#ec8236" stroke-width="2" stroke-linejoin="round"/>
<polyline points="86.2,180.0 101.9,181.9 117.6,180.0 133.4,180.0 149.1,180.0 164.8,180.0 180.5,180.0 196.2,180.0 212.0,180.0 227.7,180.0 243.4,180.0 259.1,180.0 274.8,180.0 290.6,180.0 306.3,180.0 322.0,180.0 337.7,180.0 353.4,180.0 369.2,180.0 384.9,180.0 400.6,180.0 416.3,180.0 432.0,180.0 447.8,180.0 463.5,180.0 479.2,180.0 494.9,180.0 510.6,180.0 526.4,180.0 542.1,180.0 557.8,180.0 573.5,180.0 589.2,180.0 605.0,189.7 620.7,180.0 636.4,180.0 652.1,180.0 667.8,180.0 683.6,180.0 699.3,180.0 715.0,180.0 730.7,180.0 746.4,180.0 762.2,180.0 777.9,180.0 793.6,180.0 809.3,180.0 825.0,180.0 840.8,180.0 856.5,180.0 872.2,180.0 887.9,180.0 903.6,180.0 919.4,180.0 935.1,180.0 950.8,180.0 966.5,180.0 982.2,180.0 998.0,180.0 1013.7,180.0 1029.4,180.0 1045.1,180.0 1060.8,173.0 1076.6,180.0 1092.3,180.0 1108.0,180.0 1123.7,180.0 1139.4,180.0 1155.2,180.0 1170.9,180.0 1186.6,180.0 1202.3,180.0 1218.0,180.0 1233.8,180.0 1249.5,180.0 1265.2,180.0 1280.9,180.0 1296.6,180.0 1312.4,180.0 1328.1,180.0 1343.8,180.0 1359.5,180.0 1375.2,180.0 1391.0,180.0 1406.7,180.0 1422.4,180.0 1438.1,180.0 1453.8,180.0 1469.6,180.0 1485.3,180.0 1501.0,180.0 1516.7,180.0 1532.4,180.0 1548.2,180.0 1563.9,180.0 1579.6,180.0 1595.3,180.0 1611.0,180.0 1626.8,180.0 1642.5,180.0 1658.2,180.0 1673.9,180.0 1689.6,180.0 1705.4,180.0 1721.1,180.0 1736.8,173.0 1752.5,180.0 1768.2,180.0 1784.0,180.0 1799.7,180.0 1815.4,180.0 1831.1,180.0 1846.8,180.0 1862.6,180.0 1878.3,180.0 1894.0,180.0" fill="none" stroke="#b07dd5" stroke-width="2" stroke-linejoin="round"/>
<polyline points="86.2,180.0 101.9,180.0 117.6,180.0 133.4,180.0 149.1,180.0 164.8,180.0 180.5,180.0 196.2,180.0 212.0,180.0 227.7,180.0 243.4,180.0 259.1,180.0 274.8,180.0 290.6,168.6 306.3,180.0 322.0,180.0 337.7,180.0 353.4,180.0 369.2,180.0 384.9,180.0 400.6,180.0 416.3,180.0 432.0,180.0 447.8,180.0 463.5,180.0 479.2,180.0 494.9,180.0 510.6,180.0 526.4,180.0 542.1,180.0 557.8,180.0 573.5,180.0 589.2,180.0 605.0,180.0 620.7,180.0 636.4,180.0 652.1,180.0 667.8,180.0 683.6,180.0 699.3,180.0 715.0,180.0 730.7,180.0 746.4,180.0 762.2,180.0 777.9,180.0 793.6,180.0 809.3,180.0 825.0,180.0 840.8,180.0 856.5,180.0 872.2,180.0 887.9,180.0 903.6,180.0 919.4,180.0 935.1,180.0 950.8,180.0 966.5,180.0 982.2,180.0 998.0,180.0 1013.7,180.0 1029.4,180.0 1045.1,180.0 1060.8,180.0 1076.6,180.0 1092.3,180.0 1108.0,180.0 1123.7,180.0 1139.4,180.0 1155.2,180.0 1170.9,180.0 1186.6,180.0 1202.3,180.0 1218.0,180.0 1233.8,180.0 1249.5,180.0 1265.2,180.0 1280.9,180.0 1296.6,180.0 1312.4,180.0 1328.1,180.0 1343.8,180.0 1359.5,180.0 1375.2,180.0 1391.0,180.0 1406.7,180.0 1422.4,180.0 1438.1,180.0 1453.8,180.0 1469.6,180.0 1485.3,180.0 1501.0,180.0 1516.7,180.0 1532.4,180.0 1548.2,180.0 1563.9,180.0 1579.6,180.0 1595.3,180.0 1611.0,180.0 1626.8,180.0 1642.5,180.0 1658.2,180.0 1673.9,180.0 1689.6,180.0 1705.4,180.0 1721.1,180.0 1736.8,180.0 1752.5,170.3 1768.2,180.0 1784.0,180.0 1799.7,180.0 1815.4,180.0 1831.1,180.0 1846.8,180.0 1862.6,180.0 1878.3,180.0 1894.0,180.0" fill="none" stroke="#5b8fea" stroke-width="2" stroke-linejoin="round"/>
<polyline points="86.2,180.0 101.9,180.0 117.6,180.0 133.4,180.0 149.1,180.0 164.8,180.0 180.5,180.0 196.2,180.0 212.0,180.0 227.7,180.0 243.4,180.0 259.1,180.0 274.8,180.0 290.6,180.0 306.3,180.0 322.0,180.0 337.7,180.0 353.4,180.0 369.2,180.0 384.9,180.0 400.6,180.0 416.3,180.0 432.0,180.0 447.8,180.0 463.5,180.0 479.2,180.0 494.9,180.0 510.6,180.0 526.4,180.0 542.1,180.0 557.8,180.0 573.5,180.0 589.2,180.0 605.0,180.0 620.7,180.0 636.4,180.0 652.1,180.0 667.8,180.0 683.6,180.0 699.3,180.0 715.0,180.0 730.7,180.0 746.4,180.0 762.2,180.0 777.9,180.0 793.6,180.0 809.3,180.0 825.0,180.0 840.8,180.0 856.5,180.0 872.2,180.0 887.9,187.8 903.6,180.0 919.4,180.0 935.1,180.0 950.8,180.0 966.5,180.0 982.2,180.0 998.0,180.0 1013.7,180.0 1029.4,180.0 1045.1,180.0 1060.8,180.0 1076.6,180.0 1092.3,180.0 1108.0,180.0 1123.7,180.0 1139.4,180.0 1155.2,180.0 1170.9,180.0 1186.6,180.0 1202.3,180.0 1218.0,180.0 1233.8,180.0 1249.5,180.0 1265.2,180.0 1280.9,180.0 1296.6,180.0 1312.4,180.0 1328.1,180.0 1343.8,180.0 1359.5,180.0 1375.2,180.0 1391.0,180.0 1406.7,180.0 1422.4,180.0 1438.1,180.0 1453.8,180.0 1469.6,180.0 1485.3,180.0 1501.0,180.0 1516.7,180.0 1532.4,180.0 1548.2,180.0 1563.9,180.0 1579.6,180.0 1595.3,180.0 1611.0,180.0 1626.8,180.0 1642.5,180.0 1658.2,180.0 1673.9,180.0 1689.6,180.0 1705.4,180.0 1721.1,180.0 1736.8,180.0 1752.5,180.0 1768.2,180.0 1784.0,180.0 1799.7,180.0 1815.4,180.0 1831.1,180.0 1846.8,180.0 1862.6,180.0 1878.3,180.0 1894.0,180.0" fill="none" stroke="#e05a64" stroke-width="2" stroke-linejoin="round"/>
<polyline points="86.2,180.0 101.9,180.0 117.6,180.0 133.4,180.0 149.1,180.0 164.8,180.0 180.5,180.0 196.2,180.0 212.0,180.0 227.7,180.0 243.4,180.0 259.1,180.0 274.8,180.0 290.6,180.0 306.3,180.0 322.0,180.0 337.7,180.0 353.4,180.0 369.2,180.0 384.9,180.0 400.6,180.0 416.3,180.0 432.0,180.0 447.8,180.0 463.5,180.0 479.2,180.0 494.9,180.0 510.6,180.0 526.4,180.0 542.1,180.0 557.8,180.0 573.5,180.0 589.2,180.0 605.0,180.0 620.7,180.0 636.4,180.0 652.1,180.0 667.8,180.0 683.6,180.0 699.3,189.7 715.0,180.0 730.7,180.0 746.4,180.0 762.2,180.0 777.9,180.0 793.6,180.0 809.3,180.0 825.0,180.0 840.8,180.0 856.5,180.0 872.2,180.0 887.9,180.0 903.6,180.0 919.4,180.0 935.1,178.1 950.8,180.0 966.5,180.0 982.2,180.0 998.0,180.0 1013.7,180.0 1029.4,180.0 1045.1,180.0 1060.8,180.0 1076.6,180.0 1092.3,180.0 1108.0,180.0 1123.7,180.0 1139.4,188.8 1155.2,180.0 1170.9,180.0 1186.6,180.0 1202.3,180.0 1218.0,180.0 1233.8,180.0 1249.5,180.0 1265.2,180.0 1280.9,180.0 1296.6,180.0 1312.4,180.0 1328.1,180.0 1343.8,180.0 1359.5,180.0 1375.2,180.0 1391.0,180.0 1406.7,180.0 1422.4,180.0 1438.1,180.0 1453.8,180.0 1469.6,180.0 1485.3,180.0 1501.0,180.0 1516.7,180.0 1532.4,180.0 1548.2,180.0 1563.9,180.0 1579.6,180.0 1595.3,180.0 1611.0,180.0 1626.8,180.0 1642.5,180.0 1658.2,180.0 1673.9,180.0 1689.6,180.0 1705.4,180.0 1721.1,180.0 1736.8,180.0 1752.5,180.0 1768.2,180.0 1784.0,180.0 1799.7,180.0 1815.4,180.0 1831.1,180.0 1846.8,180.0 1862.6,180.0 1878.3,180.0 1894.0,180.0" fill="none" stroke="#6f5f9e" stroke-width="2" stroke-linejoin="round"/>
<polyline points="86.2,374.0 101.9,180.0 117.6,180.0 133.4,180.0 149.1,180.0 164.8,180.0 180.5,180.0 196.2,180.0 212.0,180.0 227.7,180.0 243.4,180.0 259.1,180.0 274.8,180.0 290.6,180.0 306.3,180.0 322.0,180.0 337.7,180.0 353.4,180.0 369.2,180.0 384.9,180.0 400.6,180.0 416.3,180.0 432.0,180.0 447.8,180.0 463.5,180.0 479.2,180.0 494.9,180.0 510.6,180.0 526.4,180.0 542.1,180.0 557.8,180.0 573.5,180.0 589.2,180.0 605.0,180.0 620.7,180.0 636.4,180.0 652.1,180.0 667.8,180.0 683.6,180.0 699.3,180.0 715.0,180.0 730.7,180.0 746.4,180.0 762.2,180.0 777.9,180.0 793.6,180.0 809.3,180.0 825.0,180.0 840.8,180.0 856.5,180.0 872.2,180.0 887.9,180.0 903.6,180.0 919.4,180.0 935.1,180.0 950.8,180.0 966.5,180.0 982.2,180.0 998.0,180.0 1013.7,180.0 1029.4,180.0 1045.1,180.0 1060.8,180.0 1076.6,180.0 1092.3,180.0 1108.0,180.0 1123.7,180.0 1139.4,180.0 1155.2,180.0 1170.9,180.0 1186.6,180.0 1202.3,180.0 1218.0,180.0 1233.8,180.0 1249.5,180.0 1265.2,180.0 1280.9,183.9 1296.6,180.0 1312.4,180.0 1328.1,180.0 1343.8,180.0 1359.5,180.0 1375.2,180.0 1391.0,180.0 1406.7,180.0 1422.4,180.0 1438.1,180.0 1453.8,180.0 1469.6,180.0 1485.3,180.0 1501.0,180.0 1516.7,180.0 1532.4,180.0 1548.2,180.0 1563.9,180.0 1579.6,180.0 1595.3,180.0 1611.0,180.0 1626.8,180.0 1642.5,180.0 1658.2,180.0 1673.9,180.0 1689.6,180.0 1705.4,180.0 1721.1,180.0 1736.8,180.0 1752.5,180.0 1768.2,180.0 1784.0,180.0 1799.7,180.0 1815.4,180.0 1831.1,180.0 1846.8,180.0 1862.6,180.0 1878.3,180.0 1894.0,180.0" fill="none" stroke="#52903f" stroke-width="2" stroke-linejoin="round"/></g>
<line x1="104.5" y1="1662.5" x2="1896" y2="1662.5" stroke="#26272c" stroke-width="1"/>
<text x="94.5" y="1670.0" text-anchor="end" class="ax">0 s</text>
<line x1="104.5" y1="1562.5" x2="1896" y2="1562.5" stroke="#26272c" stroke-width="1"/>
<text x="94.5" y="1570.0" text-anchor="end" class="ax">200 ms</text>
<line x1="104.5" y1="1463.5" x2="1896" y2="1463.5" stroke="#26272c" stroke-width="1"/>
<text x="94.5" y="1471.0" text-anchor="end" class="ax">400 ms</text>
<line x1="104.5" y1="1363.5" x2="1896" y2="1363.5" stroke="#26272c" stroke-width="1"/>
<text x="94.5" y="1371.0" text-anchor="end" class="ax">600 ms</text>
<line x1="104.5" y1="1264.5" x2="1896" y2="1264.5" stroke="#26272c" stroke-width="1"/>
<text x="94.5" y="1272.0" text-anchor="end" class="ax">800 ms</text>
<line x1="104.5" y1="1164.5" x2="1896" y2="1164.5" stroke="#26272c" stroke-width="1"/>
<text x="94.5" y="1172.0" text-anchor="end" class="ax">1 s</text>
<line x1="104.5" y1="1064.5" x2="1896" y2="1064.5" stroke="#26272c" stroke-width="1"/>
<text x="94.5" y="1072.0" text-anchor="end" class="ax">1.20 s</text>
<line x1="104.5" y1="965.5" x2="1896" y2="965.5" stroke="#26272c" stroke-width="1"/>
<text x="94.5" y="973.0" text-anchor="end" class="ax">1.40 s</text>
<line x1="104.5" y1="865.5" x2="1896" y2="865.5" stroke="#26272c" stroke-width="1"/>
<text x="94.5" y="873.0" text-anchor="end" class="ax">1.60 s</text>
<line x1="104.5" y1="766.5" x2="1896" y2="766.5" stroke="#26272c" stroke-width="1"/>
<text x="94.5" y="774.0" text-anchor="end" class="ax">1.80 s</text>
<line x1="104.5" y1="666.5" x2="1896" y2="666.5" stroke="#26272c" stroke-width="1"/>
<text x="94.5" y="674.0" text-anchor="end" class="ax">2 s</text>
<line x1="104.5" y1="566.5" x2="112" y2="566.5" stroke="#26272c" stroke-width="1"/>
<text x="94.5" y="574.0" text-anchor="end" class="ax">2.20 s</text>
<line x1="252.5" y1="567" x2="252.5" y2="1670" stroke="#26272c" stroke-width="1"/>
<text x="252.5" y="1698.5" text-anchor="middle" class="ax">12:35</text>
<line x1="406.5" y1="567" x2="406.5" y2="1670" stroke="#26272c" stroke-width="1"/>
<text x="406.5" y="1698.5" text-anchor="middle" class="ax">12:40</text>
<line x1="561.5" y1="567" x2="561.5" y2="1670" stroke="#26272c" stroke-width="1"/>
<text x="561.5" y="1698.5" text-anchor="middle" class="ax">12:45</text>
<line x1="716.5" y1="567" x2="716.5" y2="1670" stroke="#26272c" stroke-width="1"/>
<text x="716.5" y="1698.5" text-anchor="middle" class="ax">12:50</text>
<line x1="871.5" y1="567" x2="871.5" y2="1670" stroke="#26272c" stroke-width="1"/>
<text x="871.5" y="1698.5" text-anchor="middle" class="ax">12:55</text>
<line x1="1026.5" y1="567" x2="1026.5" y2="1670" stroke="#26272c" stroke-width="1"/>
<text x="1026.5" y="1698.5" text-anchor="middle" class="ax">13:00</text>
<line x1="1181.5" y1="567" x2="1181.5" y2="1670" stroke="#26272c" stroke-width="1"/>
<text x="1181.5" y="1698.5" text-anchor="middle" class="ax">13:05</text>
<line x1="1336.5" y1="567" x2="1336.5" y2="1670" stroke="#26272c" stroke-width="1"/>
<text x="1336.5" y="1698.5" text-anchor="middle" class="ax">13:10</text>
<line x1="1491.5" y1="567" x2="1491.5" y2="1670" stroke="#26272c" stroke-width="1"/>
<text x="1491.5" y="1698.5" text-anchor="middle" class="ax">13:15</text>
<line x1="1646.5" y1="567" x2="1646.5" y2="1670" stroke="#26272c" stroke-width="1"/>
<text x="1646.5" y="1698.5" text-anchor="middle" class="ax">13:20</text>
<line x1="1801.5" y1="567" x2="1801.5" y2="1670" stroke="#26272c" stroke-width="1"/>
<text x="1801.5" y="1698.5" text-anchor="middle" class="ax">13:25</text>
<clipPath id="cb"><rect x="112.0" y="560" width="1783.0" height="1102.0"/></clipPath>
<g clip-path="url(#cb)"><path d="M113.0,1662.0 L113.0,1662.0 L128.5,1662.0 L144.0,1571.9 L159.5,1325.4 L174.9,741.7 L190.4,1298.0 L205.9,1067.9 L221.4,1503.6 L236.9,1504.6 L252.4,1281.0 L267.9,1537.5 L283.4,1586.3 L298.8,1557.4 L314.3,1570.4 L329.8,1519.1 L345.3,1546.0 L360.8,1067.9 L376.3,1487.2 L391.8,1579.8 L407.3,1582.8 L422.7,1532.5 L438.2,1566.4 L453.7,1622.2 L469.2,1582.8 L484.7,1605.7 L500.2,1573.4 L515.7,1618.7 L531.1,1544.0 L546.6,1582.8 L562.1,1494.2 L577.6,1627.1 L593.1,1532.0 L608.6,1586.8 L624.1,1351.7 L639.6,1597.8 L655.0,1445.9 L670.5,1561.4 L686.0,899.6 L701.5,1485.7 L717.0,1573.9 L732.5,1549.0 L748.0,1540.5 L763.5,1582.8 L778.9,1586.8 L794.4,1582.8 L809.9,1502.1 L825.4,1544.0 L840.9,1548.5 L856.4,1469.3 L871.9,1435.4 L887.4,1578.8 L902.8,1540.5 L918.3,1540.5 L933.8,1527.0 L949.3,1557.4 L964.8,1548.5 L980.3,1561.4 L995.8,1544.5 L1011.2,1426.9 L1026.7,1540.5 L1042.2,1550.0 L1057.7,1487.2 L1073.2,1193.4 L1088.7,1001.2 L1104.2,976.3 L1119.7,942.4 L1135.1,1033.5 L1150.6,976.3 L1166.1,1043.0 L1181.6,976.3 L1197.1,1008.6 L1212.6,942.4 L1228.1,942.4 L1243.6,942.4 L1259.0,942.4 L1274.5,976.3 L1290.0,841.3 L1305.5,807.4 L1321.0,909.0 L1336.5,841.3 L1352.0,1101.3 L1367.4,909.0 L1382.9,900.1 L1398.4,909.0 L1413.9,976.3 L1429.4,1068.9 L1444.9,874.7 L1460.4,909.0 L1475.9,1068.9 L1491.3,1101.3 L1506.8,1075.9 L1522.3,1001.2 L1537.8,1008.6 L1553.3,992.2 L1568.8,975.3 L1584.3,1076.4 L1599.8,1067.4 L1615.2,1043.0 L1630.7,908.5 L1646.2,976.3 L1661.7,706.8 L1677.2,1076.4 L1692.7,1025.1 L1708.2,991.7 L1723.6,1043.0 L1739.1,1043.0 L1754.6,1033.5 L1770.1,807.4 L1785.6,1076.4 L1801.1,908.5 L1816.6,1033.5 L1832.1,933.9 L1847.5,1008.6 L1863.0,1008.6 L1878.5,1094.3 L1894.0,976.3 L1894.0,1662.0 Z" fill="#ebcd47" fill-opacity="0.1169" stroke="none"/>
<path d="M113.0,1662.0 L113.0,1659.5 L128.5,1486.2 L144.0,1598.3 L159.5,1590.8 L174.9,1621.2 L190.4,1569.4 L205.9,1617.2 L221.4,1582.3 L236.9,1617.2 L252.4,1586.3 L267.9,1594.3 L283.4,1594.8 L298.8,1598.3 L314.3,1596.3 L329.8,1598.3 L345.3,1619.2 L360.8,1596.3 L376.3,1620.2 L391.8,1586.3 L407.3,1620.2 L422.7,1596.3 L438.2,1621.2 L453.7,1590.8 L469.2,1626.1 L484.7,1596.3 L500.2,1616.2 L515.7,1595.3 L531.1,1597.8 L546.6,1590.8 L562.1,1596.3 L577.6,1598.3 L593.1,1599.3 L608.6,1600.7 L624.1,1599.3 L639.6,1598.3 L655.0,1590.8 L670.5,1586.8 L686.0,1600.7 L701.5,1595.3 L717.0,1598.3 L732.5,1595.3 L748.0,1598.3 L763.5,1598.3 L778.9,1599.8 L794.4,1618.7 L809.9,1618.7 L825.4,1618.7 L840.9,1596.3 L856.4,1598.3 L871.9,1622.2 L887.4,1619.7 L902.8,1619.7 L918.3,1605.7 L933.8,1599.8 L949.3,1598.3 L964.8,1596.8 L980.3,1600.7 L995.8,1586.8 L1011.2,1589.8 L1026.7,1589.8 L1042.2,1589.8 L1057.7,1589.8 L1073.2,1576.8 L1088.7,1573.4 L1104.2,1569.9 L1119.7,1561.4 L1135.1,1569.9 L1150.6,1582.3 L1166.1,1582.3 L1181.6,1585.8 L1197.1,1585.8 L1212.6,1561.4 L1228.1,1582.3 L1243.6,1573.4 L1259.0,1544.5 L1274.5,1576.8 L1290.0,1581.3 L1305.5,1589.3 L1321.0,1581.3 L1336.5,1549.0 L1352.0,1561.4 L1367.4,1540.5 L1382.9,1570.4 L1398.4,1544.5 L1413.9,1552.9 L1429.4,1573.4 L1444.9,1565.4 L1460.4,1557.9 L1475.9,1565.4 L1491.3,1536.0 L1506.8,1540.5 L1522.3,1519.1 L1537.8,1143.6 L1553.3,1143.6 L1568.8,1008.6 L1584.3,1059.4 L1599.8,1160.5 L1615.2,1076.4 L1630.7,1059.4 L1646.2,1143.1 L1661.7,1026.1 L1677.2,1076.4 L1692.7,1109.2 L1708.2,1109.2 L1723.6,1026.1 L1739.1,1094.3 L1754.6,1076.4 L1770.1,1026.1 L1785.6,1076.4 L1801.1,1109.2 L1816.6,1008.6 L1832.1,1008.6 L1847.5,1143.1 L1863.0,1143.1 L1878.5,1109.2 L1894.0,1059.4 L1894.0,1662.0 Z" fill="#7dba6d" fill-opacity="0.0855" stroke="none"/>
<path d="M113.0,1662.0 L113.0,1647.1 L128.5,1637.6 L144.0,1599.8 L159.5,1596.3 L174.9,1637.1 L190.4,1639.1 L205.9,1637.6 L221.4,1600.2 L236.9,1598.3 L252.4,1639.1 L267.9,1640.6 L283.4,1631.6 L298.8,1609.7 L314.3,1607.7 L329.8,1640.1 L345.3,1641.6 L360.8,1641.6 L376.3,1607.7 L391.8,1607.7 L407.3,1582.8 L422.7,1633.6 L438.2,1641.6 L453.7,1607.7 L469.2,1600.2 L484.7,1641.6 L500.2,1645.6 L515.7,1645.6 L531.1,1599.3 L546.6,1606.2 L562.1,1644.6 L577.6,1590.8 L593.1,1604.2 L608.6,1608.2 L624.1,1638.6 L639.6,1608.2 L655.0,1600.7 L670.5,1608.2 L686.0,1643.6 L701.5,1645.6 L717.0,1606.7 L732.5,1606.7 L748.0,1632.1 L763.5,1639.1 L778.9,1599.3 L794.4,1606.7 L809.9,1604.2 L825.4,1639.1 L840.9,1608.2 L856.4,1606.7 L871.9,1637.1 L887.4,1654.5 L902.8,1607.7 L918.3,1604.7 L933.8,1598.8 L949.3,1638.6 L964.8,1604.7 L980.3,1602.7 L995.8,1602.7 L1011.2,1602.7 L1026.7,1605.7 L1042.2,1599.8 L1057.7,1589.8 L1073.2,1589.8 L1088.7,1594.8 L1104.2,1586.8 L1119.7,1582.3 L1135.1,1596.8 L1150.6,1582.3 L1166.1,1596.8 L1181.6,1596.8 L1197.1,1594.8 L1212.6,1596.8 L1228.1,1594.8 L1243.6,1582.3 L1259.0,1598.8 L1274.5,1586.8 L1290.0,1596.8 L1305.5,1586.8 L1321.0,1589.8 L1336.5,1598.8 L1352.0,1598.8 L1367.4,1596.8 L1382.9,1596.8 L1398.4,1601.2 L1413.9,1596.8 L1429.4,1577.8 L1444.9,1577.8 L1460.4,1586.8 L1475.9,1589.8 L1491.3,1596.8 L1506.8,1235.2 L1522.3,1365.2 L1537.8,1510.1 L1553.3,1284.5 L1568.8,1444.4 L1584.3,1434.9 L1599.8,1531.5 L1615.2,1569.4 L1630.7,1535.0 L1646.2,1359.7 L1661.7,1424.0 L1677.2,1477.7 L1692.7,1279.0 L1708.2,1398.1 L1723.6,1477.7 L1739.1,1313.9 L1754.6,1379.6 L1770.1,1444.4 L1785.6,1451.8 L1801.1,969.8 L1816.6,1221.8 L1832.1,1469.8 L1847.5,1541.5 L1863.0,1485.2 L1878.5,1451.8 L1894.0,1625.6 L1894.0,1662.0 Z" fill="#8db4f5" fill-opacity="0.0968" stroke="none"/>
<path d="M113.0,1662.0 L113.0,1617.2 L128.5,1640.1 L144.0,1617.2 L159.5,1607.7 L174.9,1611.7 L190.4,1615.2 L205.9,1640.6 L221.4,1616.2 L236.9,1607.7 L252.4,1617.2 L267.9,1615.2 L283.4,1640.6 L298.8,1616.2 L314.3,1599.8 L329.8,1611.7 L345.3,1616.2 L360.8,1640.1 L376.3,1617.2 L391.8,1609.7 L407.3,1616.2 L422.7,1640.1 L438.2,1640.6 L453.7,1612.7 L469.2,1611.7 L484.7,1617.2 L500.2,1636.6 L515.7,1640.6 L531.1,1612.2 L546.6,1610.2 L562.1,1615.2 L577.6,1615.2 L593.1,1616.7 L608.6,1611.7 L624.1,1613.2 L639.6,1614.7 L655.0,1616.7 L670.5,1609.2 L686.0,1634.6 L701.5,1614.7 L717.0,1610.2 L732.5,1614.7 L748.0,1615.7 L763.5,1615.7 L778.9,1613.7 L794.4,1608.2 L809.9,1615.7 L825.4,1637.1 L840.9,1613.2 L856.4,1611.7 L871.9,1608.2 L887.4,1639.1 L902.8,1611.2 L918.3,1609.7 L933.8,1613.7 L949.3,1639.6 L964.8,1615.7 L980.3,1611.7 L995.8,1617.7 L1011.2,1617.7 L1026.7,1611.7 L1042.2,1601.2 L1057.7,1604.2 L1073.2,1601.2 L1088.7,1598.8 L1104.2,1605.7 L1119.7,1599.8 L1135.1,1604.2 L1150.6,1605.7 L1166.1,1605.7 L1181.6,1609.7 L1197.1,1594.8 L1212.6,1609.7 L1228.1,1607.7 L1243.6,1601.2 L1259.0,1607.7 L1274.5,1611.2 L1290.0,1605.7 L1305.5,1607.7 L1321.0,1607.7 L1336.5,1607.7 L1352.0,1604.2 L1367.4,1609.7 L1382.9,1609.7 L1398.4,1607.7 L1413.9,1596.8 L1429.4,1604.7 L1444.9,1601.2 L1460.4,1607.7 L1475.9,1596.8 L1491.3,1594.8 L1506.8,1519.1 L1522.3,1519.1 L1537.8,1511.6 L1553.3,1519.1 L1568.8,1503.1 L1584.3,1503.1 L1599.8,1511.1 L1615.2,1503.1 L1630.7,1511.1 L1646.2,1519.6 L1661.7,1511.1 L1677.2,1519.6 L1692.7,1519.6 L1708.2,1519.6 L1723.6,1511.1 L1739.1,1503.1 L1754.6,1511.1 L1770.1,1511.1 L1785.6,1519.6 L1801.1,1511.1 L1816.6,1511.1 L1832.1,1519.6 L1847.5,1511.1 L1863.0,1572.9 L1878.5,1519.6 L1894.0,1572.9 L1894.0,1662.0 Z" fill="#ec8236" fill-opacity="0.0983" stroke="none"/>
<path d="M113.0,1662.0 L113.0,1648.1 L128.5,1646.9 L144.0,1646.6 L159.5,1645.9 L174.9,1646.9 L190.4,1617.2 L205.9,1650.4 L221.4,1648.2 L236.9,1645.8 L252.4,1647.3 L267.9,1646.1 L283.4,1650.0 L298.8,1648.2 L314.3,1639.6 L329.8,1647.8 L345.3,1647.7 L360.8,1650.5 L376.3,1649.5 L391.8,1649.2 L407.3,1646.0 L422.7,1646.7 L438.2,1649.8 L453.7,1646.6 L469.2,1649.9 L484.7,1647.5 L500.2,1649.9 L515.7,1650.5 L531.1,1646.2 L546.6,1649.5 L562.1,1649.5 L577.6,1645.7 L593.1,1646.2 L608.6,1649.1 L624.1,1645.8 L639.6,1647.9 L655.0,1647.2 L670.5,1643.1 L686.0,1645.9 L701.5,1647.1 L717.0,1645.7 L732.5,1646.1 L748.0,1649.1 L763.5,1648.7 L778.9,1649.7 L794.4,1649.8 L809.9,1650.2 L825.4,1649.0 L840.9,1647.5 L856.4,1650.5 L871.9,1627.1 L887.4,1642.1 L902.8,1649.0 L918.3,1646.5 L933.8,1648.2 L949.3,1649.0 L964.8,1648.1 L980.3,1647.0 L995.8,1650.3 L1011.2,1645.7 L1026.7,1650.4 L1042.2,1646.8 L1057.7,1646.3 L1073.2,1650.5 L1088.7,1646.6 L1104.2,1648.7 L1119.7,1647.7 L1135.1,1650.5 L1150.6,1650.3 L1166.1,1649.6 L1181.6,1645.8 L1197.1,1649.6 L1212.6,1646.8 L1228.1,1645.9 L1243.6,1645.9 L1259.0,1648.8 L1274.5,1648.8 L1290.0,1647.9 L1305.5,1646.7 L1321.0,1650.0 L1336.5,1646.8 L1352.0,1646.6 L1367.4,1646.3 L1382.9,1578.3 L1398.4,1645.8 L1413.9,1650.1 L1429.4,1648.8 L1444.9,1647.5 L1460.4,1646.0 L1475.9,1648.9 L1491.3,1645.9 L1506.8,1641.9 L1522.3,1643.0 L1537.8,1643.0 L1553.3,1643.7 L1568.8,1644.2 L1584.3,1643.8 L1599.8,1619.7 L1615.2,1639.6 L1630.7,1643.8 L1646.2,1644.3 L1661.7,1639.7 L1677.2,1641.9 L1692.7,1642.5 L1708.2,1631.1 L1723.6,1641.6 L1739.1,1640.5 L1754.6,1635.6 L1770.1,1642.5 L1785.6,1638.6 L1801.1,1640.0 L1816.6,1644.4 L1832.1,1642.1 L1847.5,1640.4 L1863.0,1643.9 L1878.5,1640.9 L1894.0,1639.8 L1894.0,1662.0 Z" fill="#b07dd5" fill-opacity="0.0675" stroke="none"/>
<path d="M113.0,1662.0 L113.0,1650.8 L128.5,1651.2 L144.0,1650.4 L159.5,1651.1 L174.9,1651.3 L190.4,1650.3 L205.9,1648.8 L221.4,1649.2 L236.9,1649.3 L252.4,1650.9 L267.9,1649.9 L283.4,1650.7 L298.8,1651.0 L314.3,1637.1 L329.8,1650.9 L345.3,1648.8 L360.8,1649.1 L376.3,1649.1 L391.8,1649.2 L407.3,1651.0 L422.7,1635.1 L438.2,1649.7 L453.7,1649.4 L469.2,1649.0 L484.7,1648.9 L500.2,1651.3 L515.7,1649.7 L531.1,1649.5 L546.6,1650.0 L562.1,1651.0 L577.6,1650.1 L593.1,1651.3 L608.6,1648.7 L624.1,1649.0 L639.6,1649.9 L655.0,1650.6 L670.5,1648.8 L686.0,1649.8 L701.5,1648.9 L717.0,1649.0 L732.5,1650.0 L748.0,1650.3 L763.5,1632.1 L778.9,1650.3 L794.4,1651.1 L809.9,1650.6 L825.4,1649.1 L840.9,1651.4 L856.4,1651.4 L871.9,1649.7 L887.4,1650.7 L902.8,1649.9 L918.3,1650.1 L933.8,1650.5 L949.3,1648.6 L964.8,1651.0 L980.3,1650.3 L995.8,1650.9 L1011.2,1649.7 L1026.7,1650.7 L1042.2,1650.5 L1057.7,1634.6 L1073.2,1650.6 L1088.7,1649.9 L1104.2,1648.8 L1119.7,1651.2 L1135.1,1618.2 L1150.6,1650.9 L1166.1,1649.3 L1181.6,1649.7 L1197.1,1650.8 L1212.6,1650.6 L1228.1,1651.0 L1243.6,1650.2 L1259.0,1651.4 L1274.5,1649.5 L1290.0,1648.9 L1305.5,1648.7 L1321.0,1649.3 L1336.5,1648.7 L1352.0,1651.5 L1367.4,1650.7 L1382.9,1648.7 L1398.4,1649.2 L1413.9,1650.3 L1429.4,1648.7 L1444.9,1649.7 L1460.4,1649.1 L1475.9,1650.7 L1491.3,1651.0 L1506.8,1643.2 L1522.3,1644.2 L1537.8,1643.4 L1553.3,1641.7 L1568.8,1643.6 L1584.3,1644.5 L1599.8,1644.4 L1615.2,1644.1 L1630.7,1642.2 L1646.2,1643.5 L1661.7,1643.7 L1677.2,1644.3 L1692.7,1641.6 L1708.2,1643.3 L1723.6,1643.9 L1739.1,1644.4 L1754.6,1644.4 L1770.1,1644.1 L1785.6,1642.5 L1801.1,1644.1 L1816.6,1644.4 L1832.1,1643.1 L1847.5,1643.8 L1863.0,1641.6 L1878.5,1644.2 L1894.0,1643.0 L1894.0,1662.0 Z" fill="#6f5f9e" fill-opacity="0.1023" stroke="none"/>
<path d="M113.0,1662.0 L113.0,1662.0 L128.5,1657.0 L144.0,1650.4 L159.5,1649.7 L174.9,1649.7 L190.4,1651.3 L205.9,1651.5 L221.4,1649.0 L236.9,1650.8 L252.4,1650.8 L267.9,1648.6 L283.4,1650.1 L298.8,1649.0 L314.3,1650.1 L329.8,1649.6 L345.3,1651.1 L360.8,1649.6 L376.3,1648.9 L391.8,1650.0 L407.3,1649.3 L422.7,1649.5 L438.2,1651.4 L453.7,1649.3 L469.2,1649.8 L484.7,1650.6 L500.2,1651.4 L515.7,1649.0 L531.1,1650.1 L546.6,1649.4 L562.1,1648.9 L577.6,1649.4 L593.1,1648.8 L608.6,1650.4 L624.1,1649.1 L639.6,1650.2 L655.0,1648.7 L670.5,1648.9 L686.0,1651.3 L701.5,1651.1 L717.0,1650.9 L732.5,1648.7 L748.0,1650.2 L763.5,1649.7 L778.9,1650.6 L794.4,1650.0 L809.9,1650.4 L825.4,1650.5 L840.9,1649.8 L856.4,1649.8 L871.9,1648.8 L887.4,1649.5 L902.8,1648.8 L918.3,1649.0 L933.8,1648.6 L949.3,1649.5 L964.8,1651.1 L980.3,1649.0 L995.8,1648.7 L1011.2,1648.8 L1026.7,1649.8 L1042.2,1649.4 L1057.7,1650.9 L1073.2,1649.1 L1088.7,1649.8 L1104.2,1650.7 L1119.7,1651.4 L1135.1,1649.0 L1150.6,1648.6 L1166.1,1651.3 L1181.6,1649.1 L1197.1,1650.3 L1212.6,1651.1 L1228.1,1650.7 L1243.6,1649.2 L1259.0,1648.9 L1274.5,1651.4 L1290.0,1649.7 L1305.5,1599.3 L1321.0,1649.4 L1336.5,1650.6 L1352.0,1648.9 L1367.4,1648.6 L1382.9,1650.0 L1398.4,1648.6 L1413.9,1650.6 L1429.4,1651.3 L1444.9,1649.7 L1460.4,1651.4 L1475.9,1651.0 L1491.3,1650.3 L1506.8,1642.7 L1522.3,1644.1 L1537.8,1644.4 L1553.3,1642.0 L1568.8,1643.6 L1584.3,1641.7 L1599.8,1641.9 L1615.2,1643.4 L1630.7,1643.2 L1646.2,1643.0 L1661.7,1642.6 L1677.2,1642.8 L1692.7,1642.9 L1708.2,1642.7 L1723.6,1641.8 L1739.1,1630.1 L1754.6,1643.3 L1770.1,1642.4 L1785.6,1643.9 L1801.1,1643.7 L1816.6,1641.6 L1832.1,1643.0 L1847.5,1634.6 L1863.0,1644.5 L1878.5,1643.3 L1894.0,1642.8 L1894.0,1662.0 Z" fill="#52903f" fill-opacity="0.1165" stroke="none"/>
<path d="M113.0,1662.0 L113.0,1652.0 L128.5,1650.8 L144.0,1654.3 L159.5,1654.2 L174.9,1651.2 L190.4,1651.6 L205.9,1651.9 L221.4,1653.3 L236.9,1652.1 L252.4,1652.1 L267.9,1652.2 L283.4,1653.9 L298.8,1652.8 L314.3,1653.0 L329.8,1651.6 L345.3,1650.6 L360.8,1650.7 L376.3,1652.4 L391.8,1652.8 L407.3,1653.5 L422.7,1622.2 L438.2,1654.4 L453.7,1652.7 L469.2,1653.3 L484.7,1653.0 L500.2,1651.0 L515.7,1652.4 L531.1,1652.3 L546.6,1653.6 L562.1,1654.4 L577.6,1653.2 L593.1,1654.0 L608.6,1652.5 L624.1,1650.6 L639.6,1651.8 L655.0,1653.8 L670.5,1651.0 L686.0,1651.4 L701.5,1651.6 L717.0,1650.9 L732.5,1651.5 L748.0,1651.4 L763.5,1653.1 L778.9,1650.6 L794.4,1650.7 L809.9,1653.9 L825.4,1651.5 L840.9,1637.1 L856.4,1652.7 L871.9,1652.4 L887.4,1652.6 L902.8,1650.8 L918.3,1652.5 L933.8,1651.2 L949.3,1653.1 L964.8,1651.0 L980.3,1650.9 L995.8,1652.7 L1011.2,1652.3 L1026.7,1650.9 L1042.2,1651.6 L1057.7,1652.6 L1073.2,1653.6 L1088.7,1631.1 L1104.2,1651.7 L1119.7,1653.9 L1135.1,1650.9 L1150.6,1653.5 L1166.1,1650.9 L1181.6,1653.3 L1197.1,1650.7 L1212.6,1651.7 L1228.1,1652.5 L1243.6,1652.5 L1259.0,1651.9 L1274.5,1652.2 L1290.0,1653.3 L1305.5,1653.7 L1321.0,1652.5 L1336.5,1650.8 L1352.0,1652.0 L1367.4,1654.2 L1382.9,1651.3 L1398.4,1651.6 L1413.9,1650.9 L1429.4,1653.8 L1444.9,1651.6 L1460.4,1654.3 L1475.9,1651.9 L1491.3,1653.4 L1506.8,1645.2 L1522.3,1642.6 L1537.8,1645.6 L1553.3,1644.0 L1568.8,1642.7 L1584.3,1645.1 L1599.8,1645.2 L1615.2,1642.6 L1630.7,1620.2 L1646.2,1643.2 L1661.7,1645.9 L1677.2,1644.6 L1692.7,1645.4 L1708.2,1643.4 L1723.6,1645.7 L1739.1,1642.3 L1754.6,1646.0 L1770.1,1643.2 L1785.6,1646.0 L1801.1,1645.0 L1816.6,1642.8 L1832.1,1645.4 L1847.5,1645.3 L1863.0,1643.3 L1878.5,1644.5 L1894.0,1645.9 L1894.0,1662.0 Z" fill="#5b8fea" fill-opacity="0.0807" stroke="none"/>
<path d="M113.0,1662.0 L113.0,1649.5 L128.5,1654.6 L144.0,1655.0 L159.5,1657.0 L174.9,1656.0 L190.4,1656.2 L205.9,1655.4 L221.4,1654.9 L236.9,1657.6 L252.4,1657.9 L267.9,1654.7 L283.4,1656.3 L298.8,1655.0 L314.3,1658.0 L329.8,1656.2 L345.3,1655.1 L360.8,1657.1 L376.3,1654.3 L391.8,1654.4 L407.3,1657.9 L422.7,1657.9 L438.2,1655.9 L453.7,1654.3 L469.2,1656.5 L484.7,1657.2 L500.2,1656.3 L515.7,1657.9 L531.1,1657.1 L546.6,1656.3 L562.1,1656.0 L577.6,1657.1 L593.1,1657.1 L608.6,1657.1 L624.1,1656.2 L639.6,1656.9 L655.0,1657.9 L670.5,1654.7 L686.0,1655.8 L701.5,1655.5 L717.0,1657.3 L732.5,1654.1 L748.0,1654.6 L763.5,1657.5 L778.9,1656.7 L794.4,1655.1 L809.9,1655.2 L825.4,1654.3 L840.9,1656.3 L856.4,1654.7 L871.9,1655.3 L887.4,1656.8 L902.8,1655.7 L918.3,1654.5 L933.8,1654.6 L949.3,1656.0 L964.8,1655.7 L980.3,1657.9 L995.8,1657.0 L1011.2,1654.8 L1026.7,1656.4 L1042.2,1657.3 L1057.7,1655.8 L1073.2,1655.2 L1088.7,1655.3 L1104.2,1656.5 L1119.7,1656.3 L1135.1,1656.0 L1150.6,1654.9 L1166.1,1655.9 L1181.6,1656.4 L1197.1,1656.1 L1212.6,1657.9 L1228.1,1657.8 L1243.6,1655.2 L1259.0,1654.1 L1274.5,1655.7 L1290.0,1656.4 L1305.5,1657.3 L1321.0,1656.0 L1336.5,1654.1 L1352.0,1654.9 L1367.4,1655.9 L1382.9,1654.6 L1398.4,1657.1 L1413.9,1656.0 L1429.4,1654.2 L1444.9,1655.7 L1460.4,1656.2 L1475.9,1656.9 L1491.3,1655.8 L1506.8,1644.2 L1522.3,1648.0 L1537.8,1644.9 L1553.3,1644.8 L1568.8,1644.5 L1584.3,1645.1 L1599.8,1644.8 L1615.2,1646.0 L1630.7,1645.8 L1646.2,1646.4 L1661.7,1647.8 L1677.2,1644.6 L1692.7,1645.8 L1708.2,1647.3 L1723.6,1646.0 L1739.1,1646.1 L1754.6,1646.6 L1770.1,1646.7 L1785.6,1645.9 L1801.1,1645.6 L1816.6,1645.6 L1832.1,1646.2 L1847.5,1647.9 L1863.0,1647.1 L1878.5,1647.3 L1894.0,1645.7 L1894.0,1662.0 Z" fill="#e05a64" fill-opacity="0.0761" stroke="none"/>
<polyline points="113.0,1662.0 128.5,1662.0 144.0,1571.9 159.5,1325.4 174.9,741.7 190.4,1298.0 205.9,1067.9 221.4,1503.6 236.9,1504.6 252.4,1281.0 267.9,1537.5 283.4,1586.3 298.8,1557.4 314.3,1570.4 329.8,1519.1 345.3,1546.0 360.8,1067.9 376.3,1487.2 391.8,1579.8 407.3,1582.8 422.7,1532.5 438.2,1566.4 453.7,1622.2 469.2,1582.8 484.7,1605.7 500.2,1573.4 515.7,1618.7 531.1,1544.0 546.6,1582.8 562.1,1494.2 577.6,1627.1 593.1,1532.0 608.6,1586.8 624.1,1351.7 639.6,1597.8 655.0,1445.9 670.5,1561.4 686.0,899.6 701.5,1485.7 717.0,1573.9 732.5,1549.0 748.0,1540.5 763.5,1582.8 778.9,1586.8 794.4,1582.8 809.9,1502.1 825.4,1544.0 840.9,1548.5 856.4,1469.3 871.9,1435.4 887.4,1578.8 902.8,1540.5 918.3,1540.5 933.8,1527.0 949.3,1557.4 964.8,1548.5 980.3,1561.4 995.8,1544.5 1011.2,1426.9 1026.7,1540.5 1042.2,1550.0 1057.7,1487.2 1073.2,1193.4 1088.7,1001.2 1104.2,976.3 1119.7,942.4 1135.1,1033.5 1150.6,976.3 1166.1,1043.0 1181.6,976.3 1197.1,1008.6 1212.6,942.4 1228.1,942.4 1243.6,942.4 1259.0,942.4 1274.5,976.3 1290.0,841.3 1305.5,807.4 1321.0,909.0 1336.5,841.3 1352.0,1101.3 1367.4,909.0 1382.9,900.1 1398.4,909.0 1413.9,976.3 1429.4,1068.9 1444.9,874.7 1460.4,909.0 1475.9,1068.9 1491.3,1101.3 1506.8,1075.9 1522.3,1001.2 1537.8,1008.6 1553.3,992.2 1568.8,975.3 1584.3,1076.4 1599.8,1067.4 1615.2,1043.0 1630.7,908.5 1646.2,976.3 1661.7,706.8 1677.2,1076.4 1692.7,1025.1 1708.2,991.7 1723.6,1043.0 1739.1,1043.0 1754.6,1033.5 1770.1,807.4 1785.6,1076.4 1801.1,908.5 1816.6,1033.5 1832.1,933.9 1847.5,1008.6 1863.0,1008.6 1878.5,1094.3 1894.0,976.3" fill="none" stroke="#ebcd47" stroke-width="2" stroke-linejoin="round"/>
<polyline points="113.0,1659.5 128.5,1486.2 144.0,1598.3 159.5,1590.8 174.9,1621.2 190.4,1569.4 205.9,1617.2 221.4,1582.3 236.9,1617.2 252.4,1586.3 267.9,1594.3 283.4,1594.8 298.8,1598.3 314.3,1596.3 329.8,1598.3 345.3,1619.2 360.8,1596.3 376.3,1620.2 391.8,1586.3 407.3,1620.2 422.7,1596.3 438.2,1621.2 453.7,1590.8 469.2,1626.1 484.7,1596.3 500.2,1616.2 515.7,1595.3 531.1,1597.8 546.6,1590.8 562.1,1596.3 577.6,1598.3 593.1,1599.3 608.6,1600.7 624.1,1599.3 639.6,1598.3 655.0,1590.8 670.5,1586.8 686.0,1600.7 701.5,1595.3 717.0,1598.3 732.5,1595.3 748.0,1598.3 763.5,1598.3 778.9,1599.8 794.4,1618.7 809.9,1618.7 825.4,1618.7 840.9,1596.3 856.4,1598.3 871.9,1622.2 887.4,1619.7 902.8,1619.7 918.3,1605.7 933.8,1599.8 949.3,1598.3 964.8,1596.8 980.3,1600.7 995.8,1586.8 1011.2,1589.8 1026.7,1589.8 1042.2,1589.8 1057.7,1589.8 1073.2,1576.8 1088.7,1573.4 1104.2,1569.9 1119.7,1561.4 1135.1,1569.9 1150.6,1582.3 1166.1,1582.3 1181.6,1585.8 1197.1,1585.8 1212.6,1561.4 1228.1,1582.3 1243.6,1573.4 1259.0,1544.5 1274.5,1576.8 1290.0,1581.3 1305.5,1589.3 1321.0,1581.3 1336.5,1549.0 1352.0,1561.4 1367.4,1540.5 1382.9,1570.4 1398.4,1544.5 1413.9,1552.9 1429.4,1573.4 1444.9,1565.4 1460.4,1557.9 1475.9,1565.4 1491.3,1536.0 1506.8,1540.5 1522.3,1519.1 1537.8,1143.6 1553.3,1143.6 1568.8,1008.6 1584.3,1059.4 1599.8,1160.5 1615.2,1076.4 1630.7,1059.4 1646.2,1143.1 1661.7,1026.1 1677.2,1076.4 1692.7,1109.2 1708.2,1109.2 1723.6,1026.1 1739.1,1094.3 1754.6,1076.4 1770.1,1026.1 1785.6,1076.4 1801.1,1109.2 1816.6,1008.6 1832.1,1008.6 1847.5,1143.1 1863.0,1143.1 1878.5,1109.2 1894.0,1059.4" fill="none" stroke="#7dba6d" stroke-width="2" stroke-linejoin="round"/>
<polyline points="113.0,1647.1 128.5,1637.6 144.0,1599.8 159.5,1596.3 174.9,1637.1 190.4,1639.1 205.9,1637.6 221.4,1600.2 236.9,1598.3 252.4,1639.1 267.9,1640.6 283.4,1631.6 298.8,1609.7 314.3,1607.7 329.8,1640.1 345.3,1641.6 360.8,1641.6 376.3,1607.7 391.8,1607.7 407.3,1582.8 422.7,1633.6 438.2,1641.6 453.7,1607.7 469.2,1600.2 484.7,1641.6 500.2,1645.6 515.7,1645.6 531.1,1599.3 546.6,1606.2 562.1,1644.6 577.6,1590.8 593.1,1604.2 608.6,1608.2 624.1,1638.6 639.6,1608.2 655.0,1600.7 670.5,1608.2 686.0,1643.6 701.5,1645.6 717.0,1606.7 732.5,1606.7 748.0,1632.1 763.5,1639.1 778.9,1599.3 794.4,1606.7 809.9,1604.2 825.4,1639.1 840.9,1608.2 856.4,1606.7 871.9,1637.1 887.4,1654.5 902.8,1607.7 918.3,1604.7 933.8,1598.8 949.3,1638.6 964.8,1604.7 980.3,1602.7 995.8,1602.7 1011.2,1602.7 1026.7,1605.7 1042.2,1599.8 1057.7,1589.8 1073.2,1589.8 1088.7,1594.8 1104.2,1586.8 1119.7,1582.3 1135.1,1596.8 1150.6,1582.3 1166.1,1596.8 1181.6,1596.8 1197.1,1594.8 1212.6,1596.8 1228.1,1594.8 1243.6,1582.3 1259.0,1598.8 1274.5,1586.8 1290.0,1596.8 1305.5,1586.8 1321.0,1589.8 1336.5,1598.8 1352.0,1598.8 1367.4,1596.8 1382.9,1596.8 1398.4,1601.2 1413.9,1596.8 1429.4,1577.8 1444.9,1577.8 1460.4,1586.8 1475.9,1589.8 1491.3,1596.8 1506.8,1235.2 1522.3,1365.2 1537.8,1510.1 1553.3,1284.5 1568.8,1444.4 1584.3,1434.9 1599.8,1531.5 1615.2,1569.4 1630.7,1535.0 1646.2,1359.7 1661.7,1424.0 1677.2,1477.7 1692.7,1279.0 1708.2,1398.1 1723.6,1477.7 1739.1,1313.9 1754.6,1379.6 1770.1,1444.4 1785.6,1451.8 1801.1,969.8 1816.6,1221.8 1832.1,1469.8 1847.5,1541.5 1863.0,1485.2 1878.5,1451.8 1894.0,1625.6" fill="none" stroke="#8db4f5" stroke-width="2" stroke-linejoin="round"/>
<polyline points="113.0,1617.2 128.5,1640.1 144.0,1617.2 159.5,1607.7 174.9,1611.7 190.4,1615.2 205.9,1640.6 221.4,1616.2 236.9,1607.7 252.4,1617.2 267.9,1615.2 283.4,1640.6 298.8,1616.2 314.3,1599.8 329.8,1611.7 345.3,1616.2 360.8,1640.1 376.3,1617.2 391.8,1609.7 407.3,1616.2 422.7,1640.1 438.2,1640.6 453.7,1612.7 469.2,1611.7 484.7,1617.2 500.2,1636.6 515.7,1640.6 531.1,1612.2 546.6,1610.2 562.1,1615.2 577.6,1615.2 593.1,1616.7 608.6,1611.7 624.1,1613.2 639.6,1614.7 655.0,1616.7 670.5,1609.2 686.0,1634.6 701.5,1614.7 717.0,1610.2 732.5,1614.7 748.0,1615.7 763.5,1615.7 778.9,1613.7 794.4,1608.2 809.9,1615.7 825.4,1637.1 840.9,1613.2 856.4,1611.7 871.9,1608.2 887.4,1639.1 902.8,1611.2 918.3,1609.7 933.8,1613.7 949.3,1639.6 964.8,1615.7 980.3,1611.7 995.8,1617.7 1011.2,1617.7 1026.7,1611.7 1042.2,1601.2 1057.7,1604.2 1073.2,1601.2 1088.7,1598.8 1104.2,1605.7 1119.7,1599.8 1135.1,1604.2 1150.6,1605.7 1166.1,1605.7 1181.6,1609.7 1197.1,1594.8 1212.6,1609.7 1228.1,1607.7 1243.6,1601.2 1259.0,1607.7 1274.5,1611.2 1290.0,1605.7 1305.5,1607.7 1321.0,1607.7 1336.5,1607.7 1352.0,1604.2 1367.4,1609.7 1382.9,1609.7 1398.4,1607.7 1413.9,1596.8 1429.4,1604.7 1444.9,1601.2 1460.4,1607.7 1475.9,1596.8 1491.3,1594.8 1506.8,1519.1 1522.3,1519.1 1537.8,1511.6 1553.3,1519.1 1568.8,1503.1 1584.3,1503.1 1599.8,1511.1 1615.2,1503.1 1630.7,1511.1 1646.2,1519.6 1661.7,1511.1 1677.2,1519.6 1692.7,1519.6 1708.2,1519.6 1723.6,1511.1 1739.1,1503.1 1754.6,1511.1 1770.1,1511.1 1785.6,1519.6 1801.1,1511.1 1816.6,1511.1 1832.1,1519.6 1847.5,1511.1 1863.0,1572.9 1878.5,1519.6 1894.0,1572.9" fill="none" stroke="#ec8236" stroke-width="2" stroke-linejoin="round"/>
<polyline points="113.0,1648.1 128.5,1646.9 144.0,1646.6 159.5,1645.9 174.9,1646.9 190.4,1617.2 205.9,1650.4 221.4,1648.2 236.9,1645.8 252.4,1647.3 267.9,1646.1 283.4,1650.0 298.8,1648.2 314.3,1639.6 329.8,1647.8 345.3,1647.7 360.8,1650.5 376.3,1649.5 391.8,1649.2 407.3,1646.0 422.7,1646.7 438.2,1649.8 453.7,1646.6 469.2,1649.9 484.7,1647.5 500.2,1649.9 515.7,1650.5 531.1,1646.2 546.6,1649.5 562.1,1649.5 577.6,1645.7 593.1,1646.2 608.6,1649.1 624.1,1645.8 639.6,1647.9 655.0,1647.2 670.5,1643.1 686.0,1645.9 701.5,1647.1 717.0,1645.7 732.5,1646.1 748.0,1649.1 763.5,1648.7 778.9,1649.7 794.4,1649.8 809.9,1650.2 825.4,1649.0 840.9,1647.5 856.4,1650.5 871.9,1627.1 887.4,1642.1 902.8,1649.0 918.3,1646.5 933.8,1648.2 949.3,1649.0 964.8,1648.1 980.3,1647.0 995.8,1650.3 1011.2,1645.7 1026.7,1650.4 1042.2,1646.8 1057.7,1646.3 1073.2,1650.5 1088.7,1646.6 1104.2,1648.7 1119.7,1647.7 1135.1,1650.5 1150.6,1650.3 1166.1,1649.6 1181.6,1645.8 1197.1,1649.6 1212.6,1646.8 1228.1,1645.9 1243.6,1645.9 1259.0,1648.8 1274.5,1648.8 1290.0,1647.9 1305.5,1646.7 1321.0,1650.0 1336.5,1646.8 1352.0,1646.6 1367.4,1646.3 1382.9,1578.3 1398.4,1645.8 1413.9,1650.1 1429.4,1648.8 1444.9,1647.5 1460.4,1646.0 1475.9,1648.9 1491.3,1645.9 1506.8,1641.9 1522.3,1643.0 1537.8,1643.0 1553.3,1643.7 1568.8,1644.2 1584.3,1643.8 1599.8,1619.7 1615.2,1639.6 1630.7,1643.8 1646.2,1644.3 1661.7,1639.7 1677.2,1641.9 1692.7,1642.5 1708.2,1631.1 1723.6,1641.6 1739.1,1640.5 1754.6,1635.6 1770.1,1642.5 1785.6,1638.6 1801.1,1640.0 1816.6,1644.4 1832.1,1642.1 1847.5,1640.4 1863.0,1643.9 1878.5,1640.9 1894.0,1639.8" fill="none" stroke="#b07dd5" stroke-width="2" stroke-linejoin="round"/>
<polyline points="113.0,1650.8 128.5,1651.2 144.0,1650.4 159.5,1651.1 174.9,1651.3 190.4,1650.3 205.9,1648.8 221.4,1649.2 236.9,1649.3 252.4,1650.9 267.9,1649.9 283.4,1650.7 298.8,1651.0 314.3,1637.1 329.8,1650.9 345.3,1648.8 360.8,1649.1 376.3,1649.1 391.8,1649.2 407.3,1651.0 422.7,1635.1 438.2,1649.7 453.7,1649.4 469.2,1649.0 484.7,1648.9 500.2,1651.3 515.7,1649.7 531.1,1649.5 546.6,1650.0 562.1,1651.0 577.6,1650.1 593.1,1651.3 608.6,1648.7 624.1,1649.0 639.6,1649.9 655.0,1650.6 670.5,1648.8 686.0,1649.8 701.5,1648.9 717.0,1649.0 732.5,1650.0 748.0,1650.3 763.5,1632.1 778.9,1650.3 794.4,1651.1 809.9,1650.6 825.4,1649.1 840.9,1651.4 856.4,1651.4 871.9,1649.7 887.4,1650.7 902.8,1649.9 918.3,1650.1 933.8,1650.5 949.3,1648.6 964.8,1651.0 980.3,1650.3 995.8,1650.9 1011.2,1649.7 1026.7,1650.7 1042.2,1650.5 1057.7,1634.6 1073.2,1650.6 1088.7,1649.9 1104.2,1648.8 1119.7,1651.2 1135.1,1618.2 1150.6,1650.9 1166.1,1649.3 1181.6,1649.7 1197.1,1650.8 1212.6,1650.6 1228.1,1651.0 1243.6,1650.2 1259.0,1651.4 1274.5,1649.5 1290.0,1648.9 1305.5,1648.7 1321.0,1649.3 1336.5,1648.7 1352.0,1651.5 1367.4,1650.7 1382.9,1648.7 1398.4,1649.2 1413.9,1650.3 1429.4,1648.7 1444.9,1649.7 1460.4,1649.1 1475.9,1650.7 1491.3,1651.0 1506.8,1643.2 1522.3,1644.2 1537.8,1643.4 1553.3,1641.7 1568.8,1643.6 1584.3,1644.5 1599.8,1644.4 1615.2,1644.1 1630.7,1642.2 1646.2,1643.5 1661.7,1643.7 1677.2,1644.3 1692.7,1641.6 1708.2,1643.3 1723.6,1643.9 1739.1,1644.4 1754.6,1644.4 1770.1,1644.1 1785.6,1642.5 1801.1,1644.1 1816.6,1644.4 1832.1,1643.1 1847.5,1643.8 1863.0,1641.6 1878.5,1644.2 1894.0,1643.0" fill="none" stroke="#6f5f9e" stroke-width="2" stroke-linejoin="round"/>
<polyline points="113.0,1662.0 128.5,1657.0 144.0,1650.4 159.5,1649.7 174.9,1649.7 190.4,1651.3 205.9,1651.5 221.4,1649.0 236.9,1650.8 252.4,1650.8 267.9,1648.6 283.4,1650.1 298.8,1649.0 314.3,1650.1 329.8,1649.6 345.3,1651.1 360.8,1649.6 376.3,1648.9 391.8,1650.0 407.3,1649.3 422.7,1649.5 438.2,1651.4 453.7,1649.3 469.2,1649.8 484.7,1650.6 500.2,1651.4 515.7,1649.0 531.1,1650.1 546.6,1649.4 562.1,1648.9 577.6,1649.4 593.1,1648.8 608.6,1650.4 624.1,1649.1 639.6,1650.2 655.0,1648.7 670.5,1648.9 686.0,1651.3 701.5,1651.1 717.0,1650.9 732.5,1648.7 748.0,1650.2 763.5,1649.7 778.9,1650.6 794.4,1650.0 809.9,1650.4 825.4,1650.5 840.9,1649.8 856.4,1649.8 871.9,1648.8 887.4,1649.5 902.8,1648.8 918.3,1649.0 933.8,1648.6 949.3,1649.5 964.8,1651.1 980.3,1649.0 995.8,1648.7 1011.2,1648.8 1026.7,1649.8 1042.2,1649.4 1057.7,1650.9 1073.2,1649.1 1088.7,1649.8 1104.2,1650.7 1119.7,1651.4 1135.1,1649.0 1150.6,1648.6 1166.1,1651.3 1181.6,1649.1 1197.1,1650.3 1212.6,1651.1 1228.1,1650.7 1243.6,1649.2 1259.0,1648.9 1274.5,1651.4 1290.0,1649.7 1305.5,1599.3 1321.0,1649.4 1336.5,1650.6 1352.0,1648.9 1367.4,1648.6 1382.9,1650.0 1398.4,1648.6 1413.9,1650.6 1429.4,1651.3 1444.9,1649.7 1460.4,1651.4 1475.9,1651.0 1491.3,1650.3 1506.8,1642.7 1522.3,1644.1 1537.8,1644.4 1553.3,1642.0 1568.8,1643.6 1584.3,1641.7 1599.8,1641.9 1615.2,1643.4 1630.7,1643.2 1646.2,1643.0 1661.7,1642.6 1677.2,1642.8 1692.7,1642.9 1708.2,1642.7 1723.6,1641.8 1739.1,1630.1 1754.6,1643.3 1770.1,1642.4 1785.6,1643.9 1801.1,1643.7 1816.6,1641.6 1832.1,1643.0 1847.5,1634.6 1863.0,1644.5 1878.5,1643.3 1894.0,1642.8" fill="none" stroke="#52903f" stroke-width="2" stroke-linejoin="round"/>
<polyline points="113.0,1652.0 128.5,1650.8 144.0,1654.3 159.5,1654.2 174.9,1651.2 190.4,1651.6 205.9,1651.9 221.4,1653.3 236.9,1652.1 252.4,1652.1 267.9,1652.2 283.4,1653.9 298.8,1652.8 314.3,1653.0 329.8,1651.6 345.3,1650.6 360.8,1650.7 376.3,1652.4 391.8,1652.8 407.3,1653.5 422.7,1622.2 438.2,1654.4 453.7,1652.7 469.2,1653.3 484.7,1653.0 500.2,1651.0 515.7,1652.4 531.1,1652.3 546.6,1653.6 562.1,1654.4 577.6,1653.2 593.1,1654.0 608.6,1652.5 624.1,1650.6 639.6,1651.8 655.0,1653.8 670.5,1651.0 686.0,1651.4 701.5,1651.6 717.0,1650.9 732.5,1651.5 748.0,1651.4 763.5,1653.1 778.9,1650.6 794.4,1650.7 809.9,1653.9 825.4,1651.5 840.9,1637.1 856.4,1652.7 871.9,1652.4 887.4,1652.6 902.8,1650.8 918.3,1652.5 933.8,1651.2 949.3,1653.1 964.8,1651.0 980.3,1650.9 995.8,1652.7 1011.2,1652.3 1026.7,1650.9 1042.2,1651.6 1057.7,1652.6 1073.2,1653.6 1088.7,1631.1 1104.2,1651.7 1119.7,1653.9 1135.1,1650.9 1150.6,1653.5 1166.1,1650.9 1181.6,1653.3 1197.1,1650.7 1212.6,1651.7 1228.1,1652.5 1243.6,1652.5 1259.0,1651.9 1274.5,1652.2 1290.0,1653.3 1305.5,1653.7 1321.0,1652.5 1336.5,1650.8 1352.0,1652.0 1367.4,1654.2 1382.9,1651.3 1398.4,1651.6 1413.9,1650.9 1429.4,1653.8 1444.9,1651.6 1460.4,1654.3 1475.9,1651.9 1491.3,1653.4 1506.8,1645.2 1522.3,1642.6 1537.8,1645.6 1553.3,1644.0 1568.8,1642.7 1584.3,1645.1 1599.8,1645.2 1615.2,1642.6 1630.7,1620.2 1646.2,1643.2 1661.7,1645.9 1677.2,1644.6 1692.7,1645.4 1708.2,1643.4 1723.6,1645.7 1739.1,1642.3 1754.6,1646.0 1770.1,1643.2 1785.6,1646.0 1801.1,1645.0 1816.6,1642.8 1832.1,1645.4 1847.5,1645.3 1863.0,1643.3 1878.5,1644.5 1894.0,1645.9" fill="none" stroke="#5b8fea" stroke-width="2" stroke-linejoin="round"/>
<polyline points="113.0,1649.5 128.5,1654.6 144.0,1655.0 159.5,1657.0 174.9,1656.0 190.4,1656.2 205.9,1655.4 221.4,1654.9 236.9,1657.6 252.4,1657.9 267.9,1654.7 283.4,1656.3 298.8,1655.0 314.3,1658.0 329.8,1656.2 345.3,1655.1 360.8,1657.1 376.3,1654.3 391.8,1654.4 407.3,1657.9 422.7,1657.9 438.2,1655.9 453.7,1654.3 469.2,1656.5 484.7,1657.2 500.2,1656.3 515.7,1657.9 531.1,1657.1 546.6,1656.3 562.1,1656.0 577.6,1657.1 593.1,1657.1 608.6,1657.1 624.1,1656.2 639.6,1656.9 655.0,1657.9 670.5,1654.7 686.0,1655.8 701.5,1655.5 717.0,1657.3 732.5,1654.1 748.0,1654.6 763.5,1657.5 778.9,1656.7 794.4,1655.1 809.9,1655.2 825.4,1654.3 840.9,1656.3 856.4,1654.7 871.9,1655.3 887.4,1656.8 902.8,1655.7 918.3,1654.5 933.8,1654.6 949.3,1656.0 964.8,1655.7 980.3,1657.9 995.8,1657.0 1011.2,1654.8 1026.7,1656.4 1042.2,1657.3 1057.7,1655.8 1073.2,1655.2 1088.7,1655.3 1104.2,1656.5 1119.7,1656.3 1135.1,1656.0 1150.6,1654.9 1166.1,1655.9 1181.6,1656.4 1197.1,1656.1 1212.6,1657.9 1228.1,1657.8 1243.6,1655.2 1259.0,1654.1 1274.5,1655.7 1290.0,1656.4 1305.5,1657.3 1321.0,1656.0 1336.5,1654.1 1352.0,1654.9 1367.4,1655.9 1382.9,1654.6 1398.4,1657.1 1413.9,1656.0 1429.4,1654.2 1444.9,1655.7 1460.4,1656.2 1475.9,1656.9 1491.3,1655.8 1506.8,1644.2 1522.3,1648.0 1537.8,1644.9 1553.3,1644.8 1568.8,1644.5 1584.3,1645.1 1599.8,1644.8 1615.2,1646.0 1630.7,1645.8 1646.2,1646.4 1661.7,1647.8 1677.2,1644.6 1692.7,1645.8 1708.2,1647.3 1723.6,1646.0 1739.1,1646.1 1754.6,1646.6 1770.1,1646.7 1785.6,1645.9 1801.1,1645.6 1816.6,1645.6 1832.1,1646.2 1847.5,1647.9 1863.0,1647.1 1878.5,1647.3 1894.0,1645.7" fill="none" stroke="#e05a64" stroke-width="2" stroke-linejoin="round"/></g>
<line x1="113" y1="566.5" x2="1896" y2="566.5" stroke="#26272c" stroke-width="1"/><line x1="113" y1="567" x2="1896" y2="567" stroke="#72868f" stroke-width="2" stroke-dasharray="5.986 5.986" stroke-dashoffset="3.97"/>
<line x1="113" y1="567" x2="113" y2="1662" stroke="#72868f" stroke-width="2" stroke-dasharray="5.952 5.952" stroke-dashoffset="3.9"/>
<line x1="14" y1="1749.0" x2="1946" y2="1749.0" stroke="#222328" stroke-width="2"/>
<line x1="14" y1="1795.0" x2="1946" y2="1795.0" stroke="#222328" stroke-width="2"/>
<line x1="14" y1="1841.0" x2="1946" y2="1841.0" stroke="#222328" stroke-width="2"/>
<line x1="14" y1="1887.0" x2="1946" y2="1887.0" stroke="#222328" stroke-width="2"/>
<line x1="14" y1="1933.0" x2="1946" y2="1933.0" stroke="#222328" stroke-width="2"/>
<line x1="14" y1="1979.0" x2="1946" y2="1979.0" stroke="#222328" stroke-width="2"/>
<line x1="14" y1="2025.0" x2="1946" y2="2025.0" stroke="#222328" stroke-width="2"/>
<line x1="14" y1="2071.0" x2="1946" y2="2071.0" stroke="#222328" stroke-width="2"/>
<line x1="14" y1="2117.0" x2="1946" y2="2117.0" stroke="#222328" stroke-width="2"/>
<line x1="14" y1="2163.0" x2="1946" y2="2163.0" stroke="#222328" stroke-width="2"/>
<text x="1489.5" y="1735" class="hd">Mean</text>
<path d="M1557,1729 L1562,1724 L1567,1729" fill="none" stroke="#76a0f8" stroke-width="2"/>
<text x="1609" y="1735" class="hd">Min (above zero)</text>
<text x="1842" y="1735" class="hd">Max</text>
<rect x="30" y="1768.0" width="28" height="8" rx="2" fill="#e05a64"/>
<text x="73.8" y="1781.0" class="lg">{rabbitmq_cluster=&quot;cqv2-1node-3-10-1&quot;}</text>
<text x="1489.5" y="1781.0" class="val">18.5 ms</text>
<text x="1609" y="1781.0" class="val">6.00 ms</text>
<text x="1842" y="1781.0" class="val">39.7 ms</text>
<rect x="30" y="1814.0" width="28" height="8" rx="2" fill="#5b8fea"/>
<text x="73.8" y="1827.0" class="lg">{rabbitmq_cluster=&quot;qq-1node-3-10-1&quot;}</text>
<text x="1489.5" y="1827.0" class="val">26.7 ms</text>
<text x="1609" y="1827.0" class="val">15.1 ms</text>
<text x="1842" y="1827.0" class="val">83.8 ms</text>
<rect x="30" y="1860.0" width="28" height="8" rx="2" fill="#52903f"/>
<text x="73.8" y="1873.0" class="lg">{rabbitmq_cluster=&quot;qq-3nodes-3-9-0&quot;}</text>
<text x="1489.5" y="1873.0" class="val">28.4 ms</text>
<text x="1609" y="1873.0" class="val">18.7 ms</text>
<text x="1842" y="1873.0" class="val">126 ms</text>
<rect x="30" y="1906.0" width="28" height="8" rx="2" fill="#6f5f9e"/>
<text x="73.8" y="1919.0" class="lg">{rabbitmq_cluster=&quot;qq-3nodes-3-10-1&quot;}</text>
<text x="1489.5" y="1919.0" class="val">28.5 ms</text>
<text x="1609" y="1919.0" class="val">17.7 ms</text>
<text x="1842" y="1919.0" class="val">87.9 ms</text>
<rect x="30" y="1952.0" width="28" height="8" rx="2" fill="#b07dd5"/>
<text x="73.8" y="1965.0" class="lg">{rabbitmq_cluster=&quot;qq-1node-3-9-0&quot;}</text>
<text x="1489.5" y="1965.0" class="val">33.5 ms</text>
<text x="1609" y="1965.0" class="val">20.9 ms</text>
<text x="1842" y="1965.0" class="val">168 ms</text>
<rect x="30" y="1998.0" width="28" height="8" rx="2" fill="#ec8236"/>
<text x="73.8" y="2011.0" class="lg">{rabbitmq_cluster=&quot;cqv1-1node-3-9-0&quot;}</text>
<text x="1489.5" y="2011.0" class="val">139 ms</text>
<text x="1609" y="2011.0" class="val">39.8 ms</text>
<text x="1842" y="2011.0" class="val">319 ms</text>
<rect x="30" y="2044.0" width="28" height="8" rx="2" fill="#8db4f5"/>
<text x="73.8" y="2057.0" class="lg">{rabbitmq_cluster=&quot;cqv1-1node-3-10-1&quot;}</text>
<text x="1489.5" y="2057.0" class="val">193 ms</text>
<text x="1609" y="2057.0" class="val">27.2 ms</text>
<text x="1842" y="2057.0" class="val">1.39 s</text>
<rect x="30" y="2090.0" width="28" height="8" rx="2" fill="#7dba6d"/>
<text x="73.8" y="2103.0" class="lg">{rabbitmq_cluster=&quot;cmqv1-3mirrors-3-10-1&quot;}</text>
<text x="1489.5" y="2103.0" class="val">355 ms</text>
<text x="1609" y="2103.0" class="val">62.8 ms</text>
<text x="1842" y="2103.0" class="val">1.31 s</text>
<rect x="30" y="2136.0" width="28" height="8" rx="2" fill="#ebcd47"/>
<text x="73.8" y="2149.0" class="lg">{rabbitmq_cluster=&quot;cmqv1-3mirrors-3-9-0&quot;}</text>
<text x="1489.5" y="2149.0" class="val">812 ms</text>
<text x="1609" y="2149.0" class="val">71.0 ms</text>
<text x="1842" y="2149.0" class="val">1.91 s</text>
</svg>
</body></html>
